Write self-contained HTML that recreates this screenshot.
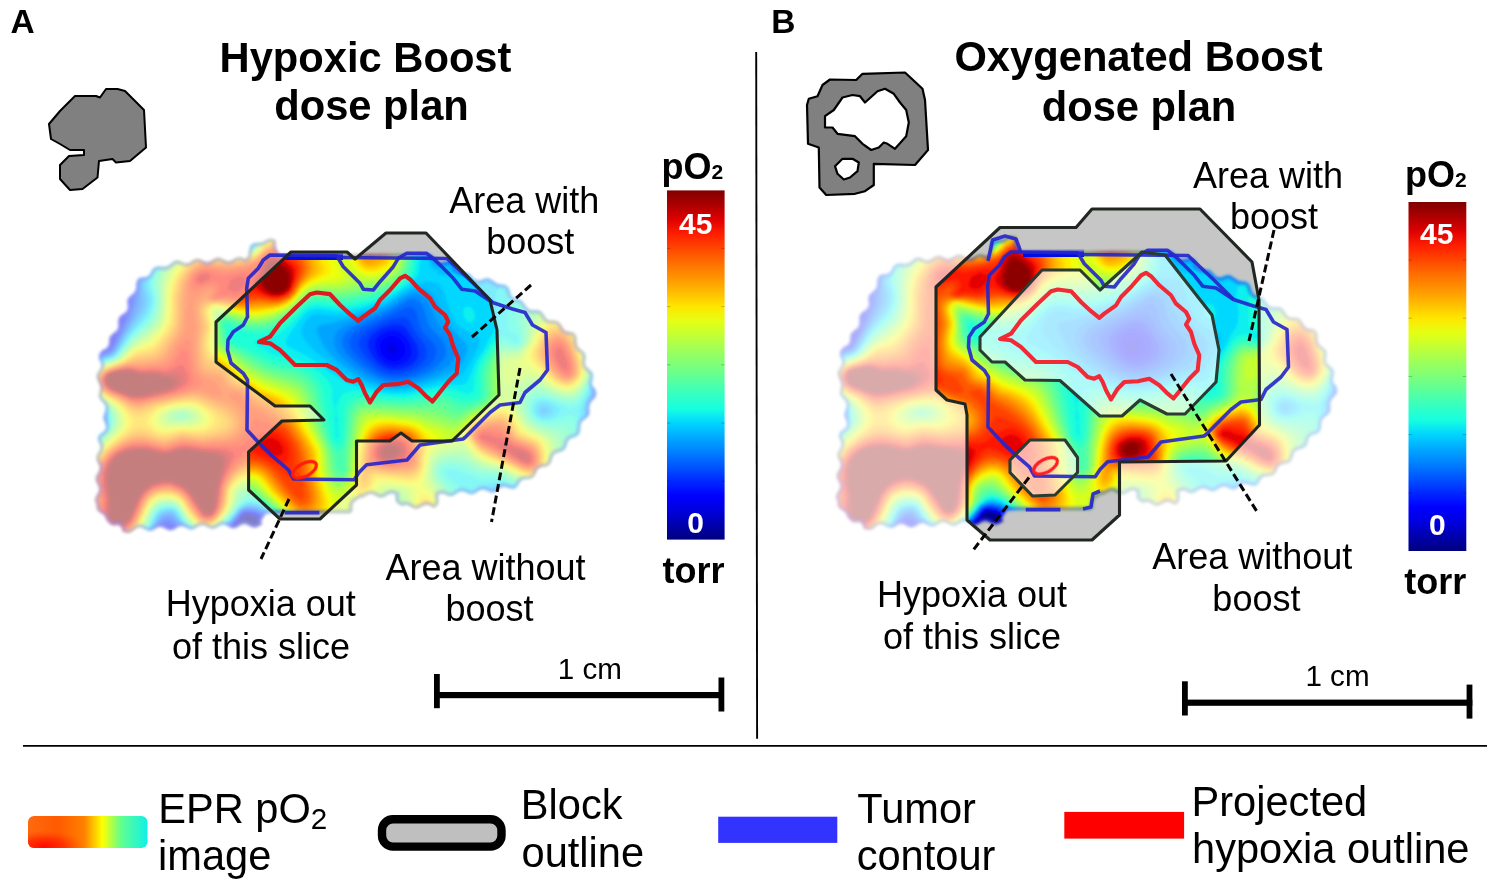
<!DOCTYPE html>
<html><head><meta charset="utf-8"><title>Figure</title>
<style>
html,body{margin:0;padding:0;background:#fff;}
body{width:1493px;height:886px;overflow:hidden;font-family:"Liberation Sans",sans-serif;}
svg{display:block;font-family:"Liberation Sans",sans-serif;}
</style></head><body>
<svg width="1493" height="886" viewBox="0 0 1493 886">
<defs>
<linearGradient id="jet" x1="0" y1="0" x2="0" y2="1"><stop offset="0.000" stop-color="#800000"/><stop offset="0.042" stop-color="#ad0000"/><stop offset="0.083" stop-color="#df0000"/><stop offset="0.125" stop-color="#ff1e00"/><stop offset="0.167" stop-color="#ff4700"/><stop offset="0.208" stop-color="#ff6f00"/><stop offset="0.250" stop-color="#ff9400"/><stop offset="0.292" stop-color="#ffbd00"/><stop offset="0.333" stop-color="#ffe600"/><stop offset="0.375" stop-color="#e4ff13"/><stop offset="0.417" stop-color="#c1ff36"/><stop offset="0.458" stop-color="#9dff5a"/><stop offset="0.500" stop-color="#7dff7a"/><stop offset="0.542" stop-color="#5aff9d"/><stop offset="0.583" stop-color="#36ffc1"/><stop offset="0.625" stop-color="#16ffe1"/><stop offset="0.667" stop-color="#00d4ff"/><stop offset="0.708" stop-color="#00a8ff"/><stop offset="0.750" stop-color="#0080ff"/><stop offset="0.792" stop-color="#0054ff"/><stop offset="0.833" stop-color="#0028ff"/><stop offset="0.875" stop-color="#0000ff"/><stop offset="0.917" stop-color="#0000df"/><stop offset="0.958" stop-color="#0000ad"/><stop offset="1.000" stop-color="#000080"/></linearGradient>
<linearGradient id="leg" x1="0" y1="0" x2="1" y2="0"><stop offset="0" stop-color="#ff6a10"/><stop offset="0.25" stop-color="#ff5a00"/><stop offset="0.47" stop-color="#ff8000"/><stop offset="0.62" stop-color="#ffff00"/><stop offset="0.78" stop-color="#60ff90"/><stop offset="1" stop-color="#10f0e8"/></linearGradient>
<radialGradient id="legr" cx="0.2" cy="0.95" r="0.5" gradientTransform="scale(1 1)"><stop offset="0" stop-color="#ff0800" stop-opacity="1"/><stop offset="0.5" stop-color="#ff2000" stop-opacity="0.7"/><stop offset="1" stop-color="#ff4000" stop-opacity="0"/></radialGradient>
<filter id="b1" x="-5%" y="-5%" width="110%" height="110%"><feGaussianBlur stdDeviation="1.5"/></filter>
<filter id="b05" x="-5%" y="-5%" width="110%" height="110%"><feGaussianBlur stdDeviation="0.55"/></filter>
<filter id="b2" x="-5%" y="-5%" width="110%" height="110%"><feGaussianBlur stdDeviation="1.6"/></filter>
<g id="heat"><g filter="url(#b1)">
<rect x="90" y="230" width="520" height="310" fill="#00008d"/>
<path fill="#0000a8" d="M560,540 277,540 260,521.1 254,517 248,515.2 244.9,516 242,518.4 236,525.6 226.1,540 90,540.1 90,351.7 104,345.1 106.9,342 110,336.1 117.2,312 121.7,280 123.8,270 128.1,258 134.8,246 142,237 149.4,230 605.2,230 610,238.1 610,486.9 601.7,502 590,516.9 576,529.6 562,539.5 560,540Z"/>
<path fill="#0000c8" d="M552,540 278.8,540 260.6,520 254.5,516 248,514 244,515.2 242,516.9 236,524 224.6,540 90,540.1 90,353.1 102,348.2 105.6,346 108,343.3 110.9,338 115.9,324 119.2,312 123.7,280 125.9,270 130.3,258 137.3,246 144,237.9 152.7,230 599.3,230 610,247.8 610,478.1 605.7,488 600,498 588,513.5 580,521.1 572,527.5 552,540Z"/>
<path fill="#0000e3" d="M540,540 280.7,540 262,519.7 256,515.6 248,513.1 244,513.9 242,515.5 223.1,540 178.4,540 174,537 170,535.5 166,536.6 163.4,540 90,540.1 90,354.4 105.6,348 109.5,344 111.7,340 117.7,324 121.7,310 125.8,280 127.9,270 132.5,258 139.9,246 148,236.8 156.2,230 593.2,230 602,242.7 610,257.5 610,467.9 605.7,480 600,491.4 594,500.6 586,510.3 578,517.8 568,525.2 541.6,540 540,540Z"/>
<path fill="#0000ff" d="M530,540 282.6,540 268.1,524 261.7,518 255.1,514 248,512.2 244,513 242,514.1 233.8,524 226,535.5 221.6,540 182,540 174,533.3 168,530.9 166,531.2 164,532.6 160.3,540 90,540 90,355.7 106,349.5 109.9,346 112.3,342 120.2,322 123.7,310 125.7,300 127.8,280 130,270 134.8,258 142,246.6 150,237.7 159.9,230 586.6,230 600,248 610,267.5 610,393.7 609,404 610,417.2 609.7,456 606,470 600.1,484 593,496 584,507.1 574,516.2 564,523 530,540ZM395.3,354 397.2,352 397.7,350 396.6,346 394.5,344 392,343.2 388,344.5 386.2,348 387.1,352 390,354.4 392,354.8 395.3,354Z"/>
<path fill="#000cff" d="M520,540 284.6,540 268,522.2 262,516.9 256,513.3 248,511.4 244,512 241,514 232.8,524 226,534 220.1,540 184.8,540 174,529.8 170,527.5 166,526.8 164,527.6 161.7,530 158,540 90,540 90,356.9 107.9,350 111.6,346 113.8,342 122.8,320 125.9,310 128.2,298 129.8,280 132.1,270 137,258 143.5,248 152.8,238 163.8,230 579.4,230 590,241.9 598,253.2 605.1,266 610,277.8 610,384.3 607.2,394 606.2,402 608.6,434 608.3,444 607,454 603.3,468 597.5,482 590,494.4 580,506.2 572,513.1 562,519.6 530,533.5 520,540ZM398.5,360 402,357.9 404.7,354 405.4,350 403.7,344 400,339.1 396,336.7 391,336 386,337.5 382.8,340 380.6,344 380.3,348 382,354 385.3,358 388.7,360 394,360.9 398.5,360Z"/>
<path fill="#0024ff" d="M510,540 286.5,540 262.7,516 256,512.2 248,510.6 242,512 240,513.9 232,523.7 224.9,534 218.5,540 187.4,540 174,526.6 168,523.1 164,523.9 160,527.9 156.1,540 90,540 90,421.9 90.6,420 90,416.3 90,358.1 108,351.5 111.9,348 114.3,344 124.7,320 128.6,308 130.6,298 131.9,280 134.2,270 139.3,258 146,248 156,237.9 168,230 571.4,230 584,242.3 596,258 604,272.7 610,289.1 610,376.9 605.1,392 603.5,400 603.5,408 605.8,434 605.4,444 603.9,454 600,468 593.8,482 586,494.2 576,505.2 568,511.6 558,517.4 523.4,530 517.4,534 511.3,540 510,540ZM402.8,364 406.3,362 410,358.2 412.1,352 410.3,344 406,337 400,331.5 394,329.9 386,331.4 380,334.7 376,339.2 374.5,344 375.4,350 379.1,358 384,362.7 390,365.2 396,365.7 402.8,364Z"/>
<path fill="#0040ff" d="M502,540 288.6,540 264,515.7 256,511.1 248,509.8 244,510.3 240.7,512 236.4,518 232,522.4 224,533.7 216.7,540 189.9,540 184.9,536 172,521.7 168,520 164,521 160,524.5 157.9,528 154.4,540 90,540 90,426.6 93.6,422 94.5,418 93.8,416 90,412 90,359.2 96,356.4 109.6,352 112,349.8 115.6,344 127.5,318 131.5,306 133,298 133.9,280 136.3,270 141.6,258 148,248.8 159.1,238 172.6,230 231,230 240,231.6 246.1,230 562.1,230 570,236.1 584,249.6 596,265.9 604.8,284 610,302.5 610,367.6 608.2,376 602,394 600.9,400 600.7,408 603.1,434 602.6,444 600.9,454 596.6,468 590,482.2 582,494 572.3,504 564,510 554,515.1 544,518.4 524,523 518,525.4 511.7,530 503.8,540 502,540ZM405.6,368 410,365.8 414.9,362 417.7,358 419,352 416.7,344 406,328.1 400,324.3 392,324.4 381.5,328 372.4,334 368.1,340 367.5,346 370.8,354 376.5,362 382,366.3 390,369.4 398,369.8 405.6,368Z"/>
<path fill="#0058ff" d="M496,540 290.7,540 263.5,514 256,510 248,508.9 244,509.5 240,511.6 236,517.5 231.4,522 224,532.5 220,536.5 214.7,540 192.5,540 184.9,534 173.3,520 170.5,518 168,517.4 165.1,518 162,519.8 158,524.5 152.8,540 90,540 90,429.6 96,423.2 98,418 95.8,414 90,409.4 90,360.3 96,357.4 110,353.1 113.3,350 115.9,346 129.7,318 134.1,306 135.6,298 136,280 138.4,270 142.8,260 150,249.6 156,243.3 162.5,238 170,233.4 177.8,230 223.7,230 236,233.5 242,234.3 246,233.4 249.8,230 550.6,230 562,237.1 572,244.8 586,259 592,267.1 597.3,276 604.8,294 608.7,312 609.8,330 608.9,360 606.8,374 599.5,394 598.3,400 598,408 600.3,434 599.7,444 597.8,454 593.2,468 586.4,482 579.5,492 570,501.7 560,508.4 550,512.7 540,515.1 520,517.6 512.9,520 506,526 497.4,540 496,540ZM407.1,372 416,368 421.3,364 425.8,358 426.9,352 426.1,348 424.2,344 416,332.9 410.3,322 408,318.9 406,317.6 402,316.9 390,319.8 371.9,328 365.9,332 361.7,336 358.6,342 359.6,348 364.8,356 374.4,366 382,370.8 390,373.3 398,373.7 407.1,372Z"/>
<path fill="#0070ff" d="M490,540 292.9,540 264,513 256,508.9 248,508 244,508.7 240,510.8 222,533.5 218,536.9 212.3,540 195.4,540 192,538.3 186,533.4 174,518 171.4,516 168,515.3 162,517.5 158,521.9 155,528 151.4,540 90,540 90,432.1 98.2,424 100.8,418 99,414 90,407.3 90,361.5 96,358.4 110.6,354 114,350.9 117.1,346 132,318 136.9,306 138.3,298 137.8,282 139.3,274 144.1,262 152.3,250 158.2,244 166.1,238 174,233.7 184.4,230 216.3,230 238,236 244,236.7 248,235.3 252.4,230 534.5,230 556,240.4 572,251.6 586,265.9 596,281.2 602.8,298 606.7,318 607.5,336 606.7,364 604.4,376 597.9,392 595.8,400 595.4,410 597.2,426 597.5,436 596.5,446 594.1,456 589,470 582.7,482 575.4,492 568,499.2 558,505.8 546,510.2 534,511.7 516,511.7 508,513.8 502,519.5 491.6,540 490,540ZM407.3,376 418.2,372 428.2,366 433.6,360 435.5,356 436.2,352 435.7,348 434,344 422.8,332 420.2,328 416.9,314 415.1,310 412,306.9 410,306.5 404,308.3 362.2,328 356,332 352,335.8 349.2,342 350.8,348 355,354 365,364 376,372 384,375.5 392,377.2 400,377.3 407.3,376Z"/>
<path fill="#008cff" d="M486,540 295.2,540 286,532.4 264.4,512 258,508.5 250,507 244,507.9 240,509.9 222,532.3 216,537.2 208.9,540 199.3,540 192,537 186,531.6 174,515.5 172,514.1 168,513.5 162,515.5 158,519.6 154.5,526 150,540 90,540 90,434.3 100,424.7 102,421.5 102.9,418 101.7,414 90,405.4 90,362.6 98,358.6 110,355.4 114,352.4 134.5,318 139.3,308 141,302 139.8,284 141.4,274 146.4,262 154,251.1 163.8,242 173.6,236 184,232 196,230 204.2,230 214,231.3 238,238 244,238.9 248,238.2 250,236.7 254.4,230 505,230 530,236.7 546,242.5 562,250.8 574,259.8 586,272.5 595.6,288 601.5,304 604.6,322 605.2,336 604.9,364 602.6,376 594.9,394 593.1,402 592.7,410 594.5,426 594.7,436 593.5,446 590.9,456 586.4,468 580.3,480 573.1,490 566,496.9 560,501.1 554,504.2 542,507.5 530,507.8 512,505.4 508,505.5 504,506.8 500,509.8 497.1,514 486,540ZM405.8,380 420,375.7 428.5,372 435.1,368 443.3,360 445.3,356 446.1,352 445.2,346 442.2,340 430.8,328 428.3,324 424.3,310 422,304.9 418,300.6 414,299 408,299.8 388,311.6 351.6,328 344.5,334 341.9,340 342.3,346 346.8,354 357.4,364 368.3,372 378,377.1 386,379.7 396,380.9 405.8,380Z"/>
<path fill="#00a4ff" d="M480,540 297.7,540 288,532.5 270.9,516 264,510.4 258,507.3 250,505.9 244,507 240,509.1 220,533.2 214,537.2 208,539.2 200,539.1 192,535.6 186,529.9 174.6,514 172,512.4 168,511.8 162,513.7 157.6,518 154,524.4 148.6,540 90,540 90,436.4 101.1,426 103.7,422 104.7,418 104,414.6 102,412.1 90,403.6 90,363.7 96,360.3 110,356.3 114,353.8 118,348.5 126,334.2 139.6,314 142.6,308 144.2,302 144.2,298 142,286 143,276 147.6,264 155.9,252 164.4,244 174,237.9 184,233.9 196,231.8 212,232.6 239,240 246,240.9 250,239.7 256.3,230 467.1,230 474,234.5 484,237.8 524,243.8 542,248.2 560,256.1 574,266 586,278.9 594,292.2 599.8,308 602.6,326 603,366 600.3,378 593.5,392 590.7,402 589.9,410 591.8,426 591.9,436 590.4,446 587,458 581.1,472 574,484 566,493 555.9,500 548,503.1 538,504.6 526,503.5 508,499 502,499.2 498,501 495,504 492,508.9 483.9,534 481.4,540 480,540ZM401.3,384 410,382.6 419.2,380 432,375.2 442.5,370 448.5,366 452,362.5 454.9,358 456.2,354 456.4,350 454.4,344 437.2,322 428.5,302 424,296.9 418,294.2 414,294.1 408,295.7 392,305.5 382,310.7 344,325.8 338,330.3 335.4,334 333.9,338 333.8,344 337.2,352 344.5,360 357.2,370 368,376.5 380,381.5 390,383.8 401.3,384Z"/>
<path fill="#00c0ff" d="M476,540 300.5,540 288,530.8 265.2,510 258,506.1 250,504.7 246,505.4 240,508.4 220,532.1 214,536.2 208,538.2 200,538 192,534.3 185.7,528 176,513.4 172,510.8 168,510.4 162,512 159.3,514 156.2,518 152.2,526 147.3,540 90,540 90,438.4 103.1,426 105.3,422 106.2,418 105.2,414 103.7,412 90,401.9 90,364.9 96,361.2 110,357.1 115,354 118.2,350 128,333.6 142.8,314 145.7,308 147.3,302 147.1,298 144.2,286 145.2,276 149.9,264 158,252.6 166,245.2 176,239 186,235.3 196,233.5 204,233.4 214,234.7 240,241.8 246,242.7 250,242.1 252,240.4 258,230 449.1,230 450,246 451.9,250 454,251.3 460,252.5 478,253.5 516,252.3 536,254.1 548,257.2 558,261.4 568,267.3 576,273.7 586,285.2 594.2,300 598.9,316 600.8,334 601.6,358 601.1,368 598.6,378 591.5,392 587.8,404 587,412 589,426 589,436 586.8,448 582.9,460 576.6,474 568.8,486 560.3,494 552,498.7 544,501 534,501.5 524,499.6 504,492.9 498,493.1 494,495.1 490,498.9 487,504 480.5,530 476.7,540 476,540ZM410.1,386 430.4,380 447.6,374 454,371 458,367.9 462,362.9 465.7,356 467.6,350 466.6,344 447.7,324 442.9,316 434.7,298 431.7,294 428,291 424,289.3 420,288.8 412,290.4 404.5,294 388,304.1 376,309.7 348,318.7 332,323 320,325.2 318.4,326 316.9,328 316.9,332 318.5,336 323.7,346 327.9,352 337.9,362 354.6,374 368,380.9 384,386 396,387.4 410.1,386ZM544,414 547.4,412 547.9,410 546.5,408 544,407.1 542,407.5 540,410 540.3,412 542,413.6 544,414Z"/>
<path fill="#00d8ff" d="M472,540 303.5,540 290,530.8 266,509.2 258,504.8 252,503.5 246,504.3 239.4,508 220,531.1 216,534.2 210,536.8 202,537.3 194,534.4 190,531.3 186,526.8 176,511.5 172,509.5 168,509.1 162,510.5 159.7,512 156.1,516 152,523.9 146.1,540 90,540 90,440.3 104,427.2 106.9,422 107.5,418 106.6,414 104,410.6 90,400.3 90,366.1 98,361.2 110,357.9 114,356 119.3,350 130,333.3 144.6,316 148,309.4 150.1,302 149.9,298 146.5,286 147.4,276 152.3,264 160,253.4 168,246.1 176,241.1 186,237.1 196,235.2 204,235.1 212,235.9 240,243.3 248,244.2 250,243.9 252.7,242 259.7,230 439.1,230 437.1,240 430.4,256 429.2,262 430,265.4 431.8,268 440,275.1 446,275.4 456,271.9 462,270.8 478,273.2 482,273.2 510,263.6 522,261.6 532,261.4 544,262.8 556,266.5 566,271.7 576,279.4 582,285.8 587.8,294 591.9,302 594.8,310 598.3,328 599.9,360 599.5,368 597.8,376 589.7,392 584.1,408 583.9,414 586.2,428 586,436 583.5,448 578.7,462 572.1,476 565.1,486 558,492.3 548,497.3 540,498.8 530,498.1 522,495.7 506,488.9 500,487.4 494,488.1 487.5,492 483.5,496 481.5,500 477.2,526 474.7,534 472,540ZM405.3,390 416,388 440,381.1 455.7,378 460,376.2 462.7,374 466,369.6 479.1,346 479.6,340 477.6,336 462,328.7 458,325.1 454.1,320 450.3,312 442.9,290 440,285 438,283.2 430,281.4 422,281.9 410,287.6 386,301.9 370,308.6 354,313.2 342,315.4 334,315.8 320,314.1 314,314.4 310,316.3 304.7,322 301.8,328 301.4,332 302.4,336 304.6,340 313.6,350 335.8,368 354,379.4 370,385.5 388,389.9 396,390.5 405.3,390ZM548.7,416 553.1,412 553.5,410 552.7,408 550.8,406 547,404 544,403.4 540,404.3 538,406 536.8,410 538.2,414 542,416.6 546,416.8 548.7,416Z"/>
<path fill="#09f0ee" d="M466,540 307.1,540 298,534.9 290,529.2 266,507.9 258,503.4 252,502.1 246,503.1 238.3,508 234,514 220,530.1 216,533.2 210,535.9 202,536.4 194,533.3 186,525.4 176,510 172,508.2 168,507.9 160.3,510 156,514.2 151.8,522 144.8,540 90,540 90,442.1 105.1,428 108,422.9 108.8,418 107.9,414 105,410 90,398.7 90,367.3 98,362 111.9,358 115.1,356 120.4,350 130,335.5 147.4,316 150.3,310 152.5,302 152.3,298 148.7,284 149.6,276 154.6,264 162.1,254 170,247.1 178,242.2 186,239 196,236.9 204,236.7 212,237.5 240,244.6 250,245.3 252,244.7 254,242.7 257.2,236 261.3,230 432,230 429.1,242 420.1,262 418.6,274 416.2,278 409.7,284 396,293.2 386,298.9 376,303.2 362,307.7 350,310.4 342,311.3 334,311.1 318,308.8 310,310.3 306,313.1 299.7,320 290.9,332 286.2,340 286.1,344 288,346.3 308,356.6 332,373.4 348,383.2 354,385.3 378,391.1 392,393.3 408,392.8 440,385.2 448,384.4 462,384.8 466,383 468.1,380 475.7,362 484,349.6 488.5,340 495,330 496.6,326 497.6,316 495.1,298 496.7,290 502.4,282 510.3,276 518,272.3 526,270.1 534,269.1 544,269.4 554,271.7 562,275 570,279.8 576,284.8 582,291.4 586.5,298 590.6,306 593.4,314 596.4,330 598.3,364 597.4,372 595.6,378 588.1,392 579.7,410 579.8,414 583,426 582.8,436 579.5,450 572.7,468 566.3,480 560,487.3 552,492.9 544,495.7 536,496.3 528,495 504,484.6 498,482.8 492,483.3 478,488.6 476,490.2 474.6,494 474.6,514 472.9,526 468.7,538 467.7,540 466,540ZM472,322.3 468,322.3 463.9,318 462.8,312 464,308.3 466,306.6 470,306.8 472,308.1 474.5,312 475,318 474,320.5 472,322.3ZM551.4,418 555.1,416 559.5,412 559.9,410 559,408 553.6,404 546,401 540,401.1 536,403.9 534.9,406 534.3,410 535.5,414 537,416 540,418.2 544,419.3 551.4,418Z"/>
<path fill="#1fffd7" d="M462,540 311.3,540 302,535.6 292,529.2 270.5,510 264,505.2 258,502 252,500.5 246,501.6 238,507.3 233.1,514 220,529.1 216,532.3 210,535 202,535.4 194,532.1 186,524 177.4,510 174,507.7 168,506.8 161.7,508 158.3,510 156,512.4 151.7,520 143.6,540 90,540 90,444 106.8,428 109.1,424 110.1,418 109.1,414 106.5,410 94,400.9 90,397.1 90,368.5 98,362.8 112,358.6 116.2,356 120,352 132,335.2 148.8,318 152,311.2 154.5,302 154.4,298 151,284 151.9,276 156,265.7 164,254.9 170,249.5 178.5,244 188,240.2 196,238.6 210,238.8 240.4,246 248,246.7 252,246.1 254.6,244 258.5,236 263,230 426.5,230 423.2,244 416,260.6 414.7,270 412.5,276 407.5,282 396.6,290 388,295 378,299.5 366,303.4 354,306.3 340,307.7 318,304.9 310,306.3 304.4,310 290,325 280,333 270,337.2 255.8,340 252.9,342 260.2,348 274,355.5 294,358.9 306,363.3 318,371.1 327.3,380 331.2,386 332.2,390 331.6,400 334.9,410 334,420 335.2,426 335,434 336,438.7 338,438.1 338.5,436 337.4,426 338.5,420 336.4,412 336.8,406 341.2,396 346,392.7 352,391.3 360,391.2 386,395.6 402,396.4 414,394.9 436,389.7 444,388.7 452,389.6 466,394 470,393.7 472,392.7 474,389.4 475.4,376 478.2,366 482.3,358 492,343.3 498,338.5 504,336.9 506,337.2 514,342.1 516,342.5 518,341.1 518,338 516,334.5 510,331.2 508.2,328 507.6,306 508.5,298 510.8,292 515.4,286 520.4,282 526,279 534,276.6 540,275.8 548,276.1 556,277.9 562,280.2 570,284.9 576,289.9 582,296.8 586.6,304 590.1,312 593,322 594.5,332 596.8,362 596.3,370 594.2,378 582,399.9 578,404.7 574,407.7 570,408 550,399.8 542,398.2 535.9,400 532.9,404 532,408 532.4,412 534.4,416 538,419.3 542,421 550,421.3 570,414.7 574,416.3 578,421.3 579.8,428 579,438 575.2,452 568.6,470 563,480 556,487.4 548,492 538,494 532,493.6 526,492 498,479.3 494,478.9 484,480 480,479.7 476,478.6 458,470.5 452,469.5 447.7,470 445.5,472 445.7,474 446.9,476 463.1,490 466.9,496 469.4,504 470.3,514 469.3,524 465.4,536 463.3,540 462,540Z"/>
<path fill="#33ffc4" d="M458,540 317.1,540 304,534.9 294,529 286,522.8 270,508.2 262,502.5 256,499.7 250,498.8 244,501.1 238,506.3 220,528.1 216,531.4 210,534.1 202,534.4 194,531 185.6,522 178,509.3 174,506.7 168,505.7 160,507.5 155,512 151.6,518 142.4,540 90,540 90,445.8 106.9,430 110,425.1 111.3,420 110.3,414 107.9,410 94.5,400 90,395.4 90,369.9 94,366.1 98,363.6 112,359.2 117.3,356 132,337.3 150,319.9 154,311.2 156.2,302 156.1,298 153.3,284 154.1,276 158.2,266 165.7,256 172.4,250 180,245.3 188.1,242 198,240.1 206,239.9 214,240.9 242,247.4 248,247.8 252,247.2 254.3,246 259.7,236 264.8,230 421.8,230 419.7,242 413.3,260 411.5,270 408.9,276 401.2,284 388,292.3 372,298.7 350,303.8 338,304.3 318,301.8 310,303.2 304,306.9 294,317.2 284,325.3 278,329 270,331.9 262,333 252,333.1 244,331.2 232,326.9 230,326.6 227.6,328 228,336.1 230.3,340 234,342.6 274,361.6 292,364.4 302,367.4 310,372 317.1,378 321.4,384 323.5,390 331.4,438 334,443.1 338,445.4 340.4,444 342.9,438 344.1,412 345.4,406 349,400 354,396.7 358,395.7 364,395.3 388,398.7 404,399.2 414.5,398 438,393 444,392.6 450,393.7 460,398.7 464,399.9 470,399.9 476.4,398 478.5,396 479.7,392 479.3,378 481.1,368 484.5,360 492,348.4 496,344.5 502,342.3 506,342.6 516,345.6 520.1,344 521.1,340 520.9,336 516.2,322 515.6,310 516.5,304 518.5,298 524,290.3 529.8,286 536,283.3 542,282.1 550,282.1 558,283.7 564,286.2 570,289.8 576,294.9 582,302 585.6,308 589,316 591.2,324 595.3,362 595,370 592.8,378 582,396.7 576,402.4 572,403.6 568,403.3 560,401.4 546,396.5 540,395.8 533.9,398 530.9,402 529.8,406 530.3,412 532.1,416 535.8,420 539.3,422 548,423.9 570,422.1 573.9,424 575.1,426 575.6,432 574,442.6 569.1,460 564.6,472 559.9,480 552,487.4 544,491 536,491.8 530,491 524,489 498,476.4 480,475.1 458,465.8 450,465.1 444,466.6 440.7,470 440.3,472 441.8,476 445,480 459.7,494 463.3,500 465.7,508 466.3,516 465,526 461.3,536 458.9,540 458,540Z"/>
<path fill="#49ffad" d="M454,540 326.6,540 322,539.1 310,535.6 298,530 288,522.9 266,503.7 258,498.9 250,496.8 244,499 236,507.1 231.2,514 220,527.2 216,530.5 210,533.2 202,533.5 196,531.2 188,523.8 178,508.1 172,505 166,504.7 160,506.3 157.4,508 154,511.7 141.1,540 90,540 90,447.7 108.5,430 111.1,426 112.6,420 111.5,414 109.2,410 106,406.9 94,398.2 90,393.6 90,371.3 92.9,368 98,364.5 112,359.9 118.3,356 132,339.2 148,324.9 152,320.2 155.6,312 157.6,302 155.4,284 156.3,276 160.5,266 168,256.4 174,251.2 182,246.3 190,243.2 198,241.7 212,242.1 242,248.5 252,248.2 255.5,246 260,237.3 266.7,230 417.6,230 415.7,244 408.8,270 407.1,274 404.3,278 400,282.1 386,290.7 370,296.4 348,301 338,301.3 320,299.1 311.8,300 304,304 294,314.2 282,323.2 274,327.2 268,328.9 252,329.7 246,328.5 228,322.2 226,322.1 223.5,324 225.5,338 227.7,342 230.2,344 270,364.3 276,366.2 292,369 300,371.6 306,374.8 312.2,380 316.5,386 318.8,392 324,418.2 328.9,438 332,444.7 338,451.7 340,451.8 342,449.5 344,445.1 346,436 347.9,412 350.3,406 354,402 360,399.3 366,398.7 390,401.6 406,401.9 422,400.1 442,396.5 448,397.6 456,402.7 460,404.3 468,404 478,401.2 480.2,400 483,396 483.6,392 482.8,378 483.8,370 486.6,362 492.4,352 496,348.1 500,345.9 504,345.3 516,347.4 520,346.2 521.8,344 523.3,336 521.2,320 521.5,312 524,303 528.5,296 533.2,292 538,289.4 544,287.8 552,287.5 558,288.6 564,290.8 570,294.4 576,299.6 581.2,306 584.7,312 587.9,320 589.9,328 594,364 593.3,372 590.6,380 582,394 578,398.3 574,400.5 570,401.1 564,400.3 544,393.9 538,393.4 534,394.6 530,398 528.1,402 527.5,406 528.3,412 530,416 533.1,420 536,422.2 546,425.8 564.8,428 568,429.7 569.4,432 570.1,438 568.8,448 564.7,464 560.7,474 556,481 550,486 542,489.3 534,489.7 524,487 498,474 486,473 480,471.8 460,462.8 450,462 446,462.6 442,464.3 440,466 438,470 438.9,476 442,480.8 456.5,496 459.9,502 462.2,510 462.6,518 461.3,526 458.1,534 454,540Z"/>
<path fill="#5dff9a" d="M448,540 382.1,540 370,538.5 336,538.4 318,536 306,532.3 296,527.1 288,521.4 272,507 264,500.8 256,496.2 250,494.6 246,495.2 242,498 231.9,512 220.2,526 216,529.6 210,532.3 202,532.6 196,530.2 192,527 187.6,522 178,507.1 172,504 166,503.7 158.4,506 154,510 150.6,516 139.9,540 90,540 90,449.6 110,430.2 112.6,426 114,420 112.8,414 110,409.3 106.5,406 95.2,398 90,391.7 90,373 94,368.1 98,365.3 113.2,360 119.4,356 132,341 148,327.4 152.9,322 156.7,314 158.8,304 159,298 157.4,284 158.4,276 162.9,266 170,257.1 176,252 182.5,248 190,245 198,243.3 212,243.5 242,249.5 252,249 256,246.6 262,236.2 268.8,230 413.8,230 412.7,244 405.5,272 403,276 398,280.9 386,288.2 372,293.2 348,298 338,298.5 320,296.6 312,297.6 304,301.7 294,311.8 284,319.1 276,323.5 268,326.1 258,327.3 250,326.9 226,319.3 222.2,320 220.9,322 223.7,340 226,343.7 228.9,346 266,366.3 274,369.2 292,373 300,376 306,379.8 310.2,384 312.8,388 315.2,394 326.1,436 334.7,456 336.3,468 338,471.1 340,472.5 343.2,472 345.1,470 345.5,468 344.7,454 348,438 350.2,416 352.1,410 356,405.2 360,403 366,401.9 404,404.8 424,403.5 442,401.2 446,402.1 454,408.1 460,409.4 478,403.9 484,400 486.2,396 486.7,392 486,378 486.8,370 489.4,362 494,353.7 500,348.6 504,347.8 516,349.1 520,347.6 523.1,344 525.2,336 525.1,322 526,314 528.7,306 532.9,300 537.9,296 542,294 548,292.5 554,292.5 560,293.7 566,296.2 572,300.3 575.9,304 580,309.1 583.9,316 588.3,330 592.6,364 592,372 589.3,380 580,394.1 574,398.3 570,399 564,398.5 544,391.9 536,390.9 532,392.2 528,395.8 525.9,400 525.3,404 525.8,410 527,414 529.1,418 532.8,422 540,426 558,431.2 562,433.7 563.8,436 565.3,442 564.7,450 561.2,466 558,474 553.9,480 548,484.8 542,487.2 534,487.8 524,485.1 498,472 486,470.7 480,469.2 462,460.1 450,459.3 442,461.4 438.7,464 436.4,468 435.8,472 436.6,476 440,482 454,498 457,504 458.9,512 458.8,520 456.9,528 452,536.9 449.4,540 448,540Z"/>
<path fill="#70ff87" d="M442,540 397.9,540 386,533.8 378,532.3 338,535.3 326,534.9 314,533 304,529.7 296,525.6 288,519.9 272,505.5 262,497.8 254,493.1 248,492 244,493.1 240.6,496 231,512 220,525.3 216,528.7 210,531.5 202,531.7 196,529.1 188,521.3 178,506 172,503.1 166,502.7 162,503.3 158,505 152.9,510 138.6,540 90,540 90,451.5 110.1,432 114.1,426 115.3,420 114.1,414 110.3,408 96.7,398 91.3,392 90,389.5 90,374.9 93.2,370 98,366.1 104,363.4 114,360.3 120,356.4 132,342.7 148,329.7 154,323.3 157.8,316 160,306.1 160.3,298 159.3,284 160.5,276 165.2,266 172,257.9 179.3,252 186,248.3 192.4,246 200,244.6 212,245 240,250.4 246,250.7 252,249.9 256,247.6 262,237.7 271.2,230 410.2,230 410.5,238 409.7,246 404.1,270 401.8,274 398,278.2 392,282.6 386,285.8 372,290.5 346,295.4 336,295.8 320,294.3 312,295.5 304,299.7 294,309.7 288,314.3 276,321.1 266,324.2 258,325.1 250,324.7 242,322.7 229.3,318 224,317 220.9,318 219.5,320 219.2,324 221.6,340 223.5,344 226,346.5 262,367.8 272,371.8 296,378.2 302,381.4 307,386 312,395.5 321.9,430 330.8,452 333.7,470 336,474.1 340,476.2 344,474.9 346,472.9 347.3,470 347.4,454 352.4,418 354.4,412 358,407.7 362,405.7 368,404.8 400,407.4 438,407.1 444,408.7 452,413.5 456,414.7 460,414 480,405.1 486,401.2 489.1,396 489.4,372 491.3,364 494,358 498,352.7 502,350.4 516,350.7 520,349 523.1,346 526.6,338 529.5,316 532,309.7 536,304.1 540,300.7 544,298.6 548,297.4 554,296.9 564,299.4 570,302.9 574,306.3 578,310.9 582.3,318 585.3,326 587.1,334 591.3,366 590.3,374 587,382 582,389.6 578,394 574,396.4 570,397.2 560,395.9 540,388.6 536,388.1 532,388.8 528,391.1 525.5,394 523.6,398 522.9,402 524.3,412 527,418 530,421.8 536,426 555.3,434 558,436.3 560.3,440 561.4,446 560.8,454 558.5,466 555.4,474 550.9,480 546,483.6 540,485.7 532,485.9 526,484.2 514,478.8 500,471 486,468.7 480,467 462,457 458,456.4 448,457 440,459.8 437.5,462 435.2,466 434.2,470 434.6,476 438,482.9 447.7,494 451.8,500 454.4,506 455.7,514 455,522 452.1,530 446.1,538 443.8,540 442,540ZM184.1,418 185.8,416 184,413.9 180,413.4 178,414 176.3,416 178,418.1 182,418.6 184.1,418Z"/>
<path fill="#87ff70" d="M436,540 409.3,540 399.7,534 390,524.3 386,522 382,522.3 360,528.8 342,531.6 324,532.3 310,530 302,527.1 294,522.8 258,493.1 252,489.8 248,489.3 244,490.2 240,492.7 238,495.6 234.9,504 228.5,514 218,526.3 214,529.1 210,530.7 202,530.8 196,528.1 188,520.1 178,505 172,502.1 166,501.7 158,503.8 153.2,508 150,513.2 142,531.8 137.3,540 90,540 90,453.5 111.8,432 115.6,426 116.7,420 115.5,414 111.7,408 98,397.9 92.5,392 90,386.5 90,377.6 92.6,372 96.5,368 102,364.8 114,360.9 119.1,358 123.6,354 132,344.3 148,332 155.6,324 159.5,316 161.2,308 161.2,284 162.6,276 167.6,266 174.6,258 180,253.7 186.3,250 192,247.8 200,246.2 212,246.4 240,251.4 246,251.6 252,250.7 256.6,248 260,242 264,237 274,230 406.8,230 407.6,238 407.2,246 404.9,260 402.8,268 400.7,272 397.3,276 392,280.1 386,283.4 374,287.4 344,292.9 336,293.2 320,292.1 312,293.4 304,297.8 294,307.9 288,312.5 276,319 266,322.1 258,323.1 250,322.8 224,315.1 220,315.7 218,319.3 219.7,340 221.3,344 224.9,348 250,364.3 260,369.9 270,374.2 294,381.1 300,384.3 304.1,388 308.7,396 319,428 328.1,450 331.8,472 335.8,478 340,479.5 344,477.9 346,476 349,470 349.7,452 354.6,420 356.4,414 360,410 364,408.2 370,407.5 420,410.6 438,413 454,419.1 460,418.2 469.2,412 484,405.1 490.1,400 492.2,394 492.3,372 493.5,366 496,359.3 498,356 502,352.7 506,352 516,352.3 520,350.4 524.4,346 528.1,338 530.7,324 533.2,316 536,310.8 540,306.3 548,302 556,301.2 562,302.5 566,304.2 574,310.3 580,318.6 583.8,328 589.8,362 590,368 589.1,374 584.5,384 580,390.1 576,393.6 572,395.3 568,395.7 558,393.7 538,385.5 532,385.3 528,386.9 524.3,390 521.7,394 520.4,398 520.4,404 521.7,410 524,416 527.9,422 534,426.7 552,435.4 554.7,438 557,442 558.1,448 557.6,456 555.5,468 553,474 550,478.1 544,482.5 538,484.3 532,484.2 526,482.7 514,477.4 500,469.6 486,467 480,464.9 466,455.6 462,453.8 458,453.4 448,454.5 440,457.1 436.4,460 434,464 432.5,470 432.7,476 436,483.6 446.2,496 449.7,502 451.8,508 452.5,516 450.8,524 447.9,530 442,536.5 436,540ZM184.3,420 189.1,418 190,416 188.9,414 186,412.4 182,411.7 178,412.1 173.7,414 172,416 172.4,418 176,419.9 184.3,420Z"/>
<path fill="#9aff5d" d="M136,540 90,540 90,455.5 96.5,448 113.5,432 117.2,426 118.2,420 116.9,414 113.2,408 98,396.7 93.6,392 90.8,386 90.4,380 92.4,374 97.7,368 104,364.7 114,361.5 120.3,358 132,345.9 148.4,334 156.2,326 159.7,320 162,312 162.9,304 163,284 165.4,274 168.6,268 174,261.3 180,255.9 188,251.1 196,248.4 206,247.4 214,248.1 236,252.1 250,252 256,249.5 262,240.5 266,236.7 277.6,230 403.4,230 404.7,238 404.8,246 403.4,258 401.5,266 399.6,270 396,274.4 386,281 374,284.8 356,287 342,290.4 320,290 312,291.5 304,296 294,306.2 288,310.9 276,317.1 266,320.1 258,321.3 250,321 222,313.2 218.5,314 217.2,316 216.6,320 218,340 219.2,344 222.1,348 246,364.7 256,370.8 268,376.4 292.5,384 299.3,388 302.9,392 307,400 316.8,428 326.3,450 328.5,468 330.1,474 334,480.4 338,482.8 340,483 344,481.1 348,476.4 350,472 351.7,450 356.2,424 358.5,416 362,412.3 368,410.5 374,410.2 414,413 438,418.1 452,422.8 458,422.3 470,413.8 488,404.6 493,400 495.1,394 494.8,380 495.6,370 498.5,360 501.4,356 504,354.4 516,354.1 520,352.1 524,348 527.1,344 529,340 533.3,324 535.7,318 538.1,314 542,309.8 546,307.1 552,305.2 556,305 562,306.2 568,309.1 572,312.2 576,316.7 580,323.5 583.5,334 588.9,366 588.4,372 586.6,378 580,388.2 574,393 570,394 564,393.8 554,390.7 538,382.7 532,381.8 528,382.7 523,386 519.6,390 517.3,396 517.3,402 518.9,408 522.1,416 525.7,422 532,427.4 548.7,436 553.7,442 555.2,448 555,456 553.3,468 550.7,474 547.4,478 542,481.4 536,482.8 530,482.4 514,476 500,468.4 486,465.3 480,463 474,459.3 466,452.4 462,450.5 454,450.8 444,452.8 440,454.3 436,457.3 432.8,462 431.2,468 431,476 433.8,484 443.3,496 446.8,502 448.8,508 449.3,514 448.5,520 446,526.1 442,531.4 436,535.8 428,538.4 420,538.4 412,535.9 404.2,530 401.3,526 399.2,520 399.2,514 403.5,498 402.9,496 400,494.3 394,493.9 387.9,496 384.4,500 379.2,510 376.1,514 371.4,518 366,521 356,524.5 340.6,528 330,529.5 320,529.7 308,527.6 296,522.4 288,516.8 256,489.1 252,487.1 248,486.7 242,488.5 237.5,492 236.2,494 234.5,502 231.6,508 220,523.4 214,528.2 208,530.2 204,530.3 200,529.3 194,525.5 186,516.1 180,506 176,502.6 172,501.2 166,500.7 158,502.6 154,505.6 150.7,510 141.9,530 136,540ZM191,420 193.1,418 193.6,416 192.7,414 190.3,412 186,410.6 180,410.4 174,411.6 169.8,414 168.4,416 168.3,418 169.7,420 174,421.5 186,421.4 191,420Z"/>
<path fill="#b1ff46" d="M134,540 90,540 90,457.7 98.2,448 115.2,432 118.9,426 119.8,422 118.4,414 114.8,408 110.2,404 98.5,396 94,390.9 91.4,384 91.7,378 94,373 98,368.7 104,365.3 116,361.2 121.5,358 134,345.7 148,336.6 156.8,328 160.7,322 163.2,314 164.8,284 167.6,274 171,268 176,262 182,256.7 188,253 196,250 206,248.9 214,249.5 236,253.2 250,252.8 256.4,250 262,241.8 268,236.6 274,233.3 282.5,230 399.9,230 401.8,238 402.4,246 401.7,256 400.1,264 398.4,268 395.4,272 392,275 386,278.6 374,282.3 356,283.2 340,287.9 322,287.8 312,289.6 304,294.2 294,304.6 288,309.3 276,315.3 264,318.7 256,319.6 248,318.9 222,311.5 218,311.5 215.7,314 215.3,318 216.5,328 216.4,340 217.2,344 220,348.4 246,367.7 253,372 266,378.5 290,386.4 296.3,390 300.3,394 304,400.7 314.7,428 324,448 325.5,454 326.8,470 328.5,476 332,482.3 334,484.4 338,486.8 340,486.9 344,484.8 348,479.8 350.8,474 352.2,468 353.7,448 357.2,430 360,419.6 362,416.3 364,414.8 368,413.4 376,412.7 412,415.4 420,417 450,426.4 456,426.2 460,424.2 472,414.6 489.2,406 496.2,400 498.8,394 498.2,386 498.8,372 500,364.8 502,360.1 504,357.9 506,357.2 516,356.4 522,352.1 529.6,342 537.8,320 544,312.7 548,310.3 554,308.7 560,309.1 564,310.4 572,315.9 576,320.7 578.9,326 582.2,336 584.3,350 587.2,362 587.7,368 585.4,378 582,383.9 578.6,388 572,392.1 568,392.7 562,392 552,388.1 536,378.8 530,378.1 524,380.2 518.9,384 515.6,388 513,394 513,398 514.8,404 520.2,416 524,422.6 529.8,428 545.3,436 549.6,440 551.7,444 552.9,450 552.1,464 550.6,470 548.5,474 544.6,478 540,480.4 536,481.3 530,481 514,474.8 500,467.2 488,464.4 481.5,462 475.1,458 466,449.2 462,447.2 456,447 440,451.5 436,454.1 431.7,460 429.7,468 429.4,478 431.4,484 440.6,496 444,502 445.9,508 446.2,514 444.9,520 442,525.6 438,529.7 434,532.3 428,534.1 420,533.8 414,531.4 408,526 405.9,522 404.7,516 407.4,496 406,493.1 402,490.9 392,490 384.7,492 382,494.5 376,504.4 372,509.5 366.5,514 360,517.3 334,525.5 326,527 318,527.3 306,525.3 294,519.7 286,513.5 256,486.3 250,484.1 242.3,486 236.8,490 234.4,494 232.5,504 228.2,512 218,524.5 214,527.4 208,529.4 204,529.4 200,528.4 194,524.4 186,514.8 180,504.8 176,501.6 172,500.2 166,499.7 158,501.5 154,504.2 150.9,508 140,531.7 136,538.2 134,540ZM192.1,422 195.2,420 196.5,416 194,412 188,409.4 182,409.1 174,410 169.2,412 165.5,416 165.7,420 167.6,422 170,422.9 186,423 192.1,422Z"/>
<path fill="#c4ff33" d="M132,540 90,540 90,460 97.8,450 117,432 120.7,426 121.5,422 120,414 116.4,408 111.9,404 99.8,396 94.5,390 92.8,386 92.2,382 92.6,378 94.3,374 97.5,370 102,366.9 115.6,362 122.7,358 134,347.2 150,337.5 159,328 162.6,322 164.8,314 166.1,288 168.1,278 173.4,268 183.2,258 188,254.9 194,252.2 204,250.4 214,250.9 236,254.3 244,254.4 252,253.1 257.4,250 262,243.1 268,238 276,234 286,231 292,230 396.2,230 399.3,240 400,252 398,264 396,268 392.4,272 384,277 378,279 370,280.2 354,278.6 344,283.8 340,285 322,285.5 314,287 308,289.5 304.4,292 294,303.2 286,309.1 276,313.6 264,316.9 256,318 250,317.6 218,309.5 215.8,310 214,312.7 213.7,316 215.5,328 214.9,342 216,346 219,350 248.2,372 264,380.5 290,390 295.7,394 299,398 303.2,406 313.4,430 322.4,448 323.8,454 324.3,466 325.6,474 328.9,482 334,488.7 338,491.2 342,490.9 344,489.5 348,483.9 352.9,472 355.3,448 360.5,426 364,419.1 368,416.6 372,415.6 386,415.3 412,417.8 420,420 430,424.4 440,426.8 450,431.2 454,431.3 458,429 472.8,416 490,407.5 502,399.6 506,398.8 508,400.1 512,404.9 524,425.4 528,428.8 540,434.7 544.9,438 548.3,442 550.5,448 550.2,464 548,471.4 546,474.4 542,477.7 538,479.4 534,480 526,478.6 514,473.6 500,466.1 482,460.6 475.1,456 466,446.2 460,443.1 454,442.9 438,449.4 434,452.8 430,459.4 427.9,470 427.4,478 428,482 429.9,486 437.9,496 441.3,502 443,508 443,514 441.1,520 438.4,524 434,527.5 430,529.2 424,529.8 420,529 416,527 412,523 410,519.2 408.8,514 410.4,498 409.9,494 406.8,490 402,488 392,487 384,488 380,490.8 370.8,504 364,509.3 332,522.3 324,524.4 316,525 304,522.9 294,518.1 286.1,512 268.4,496 256,483.4 254,482.3 250,481.7 242,484 236,488.5 233.6,492 232,502 228.6,510 220,521.6 214,526.6 210,528.2 206,528.8 202,528.2 198,526.4 190,518.9 185,512 181.7,506 178,501.9 172,499.2 162,499.1 156,501.4 151.2,506 148,511.6 138.8,532 134,539.1 133.2,540 132,540ZM572,390.6 566,391.3 558,389.4 547.9,384 538,376.5 532,374.3 526,374.4 522,375.8 508,384.6 506,384.3 504,380 503.4,370 505,364 508,361.3 516,359.5 520,357 529.9,344 536.5,328 540,321.4 546,315.2 552,312.5 556,312 562,312.9 570,317.5 576,324.8 580.5,336 583.3,352 586,362 586.1,372 584.2,378 580.6,384 576,388.6 572,390.6ZM192.3,424 196,422.6 198,421 199.4,418 199.3,416 196,411.1 190,408.2 178,408 170,409.8 163.9,414 162.1,418 163.2,422 168,424.8 172,425.2 192.3,424Z"/>
<path fill="#d7ff1f" d="M130,540 90,540 90,462.6 94.3,456 99.4,450 118.9,432 122.6,426 123.4,422 121.6,414 118,408 113.7,404 101.2,396 96,390.6 93.7,386 93.2,380 95.2,374 100,368.9 104,366.6 116,362.4 122,359.3 134,348.7 150,340 160,329.7 164,323.1 166.1,316 167.3,292 168.8,282 171.9,274 177.5,266 183.6,260 188,256.8 194,253.9 200,252.4 212,252.1 238,255.5 252,253.9 258,250.4 262.3,244 268,239.4 276,235.6 286,233.1 300,232.1 324,234.3 330,233.4 336.8,230 392.3,230 395.2,236 396.9,242 397.6,256 396.5,262 394.8,266 392,269.4 388,272.5 378,276.5 368,277.5 361.3,276 352,270.9 350,270.3 348,270.8 345.2,278 342,280.9 338,282.2 320,283.5 312,285.8 304,290.5 294,301.8 288,306.6 278,311.4 264,315.1 256,316.3 250,316 220,308.4 215.5,308 213.1,310 212.1,314 214.5,326 213.3,344 214.9,348 218,351.6 230.1,360 244,372.2 264,383.3 287.1,392 292,395.2 296,399.4 300.1,406 311.2,430 320.7,448 322,454 322.8,470 326,481.3 332,491.3 336,495.5 340,497.8 344,497.3 346,494.8 352,479.6 354.6,470 356.5,450 358.9,438 363.1,426 365.6,422 368,420 374,417.9 382,417.3 408,419.4 418,422 428,427 437.9,430 441.2,432 444.8,436 445.4,438 444.9,440 434,448.9 430,454.9 428,460.4 425.4,478 425.4,482 426.7,486 436,497.3 439.3,504 440,512 438.9,516 436,520.7 432,523.7 428,525.1 422,524.6 418,522.6 414.1,518 412.7,514 412.1,508 413.2,496 412.6,492 411.3,490 408.8,488 403.6,486 388,484.4 384,484.7 380,486.4 370,499.4 364,503.8 358,505.8 346,507 334,516.7 324,521.4 316,522.7 306,521.7 298,518.8 290.4,514 268.3,494 258,482.3 254,479.8 250,479.5 242,482 238,484.6 234,488.7 232,493.1 230.4,504 227.7,510 220,520.6 213.5,526 210,527.4 206,527.9 198.9,526 191.9,520 186,512.4 181.2,504 178,500.8 172,498.3 162,498.1 156,500.2 151.6,504 148,509.7 138,531.5 132,539.7 130,540ZM574,388.3 568,390 560,388.7 550.6,384 536,372.1 526,368.8 515.6,368 520,363.4 525.7,352 531.5,344 541.2,324 546,318.9 552,315.8 560,315.5 568,319.1 574.3,326 578.8,336 582,352 584.8,362 585.2,370 583.9,376 582,380 578,385.3 574,388.3ZM536,478.4 530,478.4 524,476.7 514,472.5 502,465.9 486,460.9 480,457.9 475.1,454 468,445.3 459.9,438 459.1,434 461,430 468,421.7 476,415.8 500,404.6 504,404 508,405.4 512,409.3 520.8,424 524,427.9 542.2,438 545.9,442 547.9,446 548.8,452 548.5,464 547.7,468 544,474.1 540,477 536,478.4ZM190,426 194,425.6 198.7,424 201.1,422 202.6,418 201.4,414 200,412 196,408.8 192,407.1 184,406.4 170,408.4 163,412 161,414 159,418 159.5,422 160.8,424 166,426.7 172,427 182,425.7 190,426Z"/>
<path fill="#eeff09" d="M130,540 90,540 90,465.4 94.3,458 100,451 120.9,432 124.9,426 125.7,422 123.5,414 119.7,408 115.5,404 104,397 98,391.9 94.7,386 94,380 96.1,374 100,369.7 106,366.4 116,363 122.3,360 136,348.9 150,342.6 156,337.3 162,330.1 165.6,324 167.5,318 168.5,296 170.7,282 174,274.1 178.3,268 188,258.8 194,255.6 200,253.9 210,253.4 236,256.6 244,256.2 252,254.7 258,251.3 263.5,244 266,241.9 274,237.9 282,235.7 292,234.7 304,235.5 313.4,238 328,244.1 332,244.4 336,241.9 347.1,230 387.8,230 391.7,236 394,242 395.2,248 395.4,256 394.3,262 392.1,266 388,269.8 384,272 374,274.8 368,274.8 364,273.9 360,271.9 355.3,268 348,258 346,256.4 342,255.2 339.7,256 336.9,260 337.2,266 339.8,274 339.6,276 338,277.6 320,281.1 310,284.8 302.7,290 292,302.4 282,308.5 270,312.1 254,314.7 242,313 216,306.5 212.6,308 210.7,312 210.8,316 213.5,326 211.4,344 212.6,348 215.5,352 229.7,362 242.4,374 262,385.3 278,391.1 286,395 292,399.7 296.8,406 319.6,450 320.6,468 322,476 325.7,486 333.9,502 333.9,508 331.8,512 326,517 318,520 308,520.3 300,518.1 294,514.9 286,508.6 268.4,492 258,479.6 254,477.7 250,477.5 242,480 238,482.7 234,486.6 231.2,492 229.9,502 226.8,510 220,519.7 214,524.9 210,526.6 206,527.1 200,525.7 196,523 192,518.9 186,511.1 182,503.7 178,499.7 172,497.3 162,497 154.4,500 150,504.6 138,529.7 130,540ZM570,388.4 562,388 553.1,384 547.8,380 540,371.9 528.6,364 526.6,360 526.6,356 528,352 533.1,344 541.1,328 546.4,322 550,319.7 554,318.4 560,318.4 564,319.7 570,324 573.2,328 577.7,338 583.6,362 584.1,370 581.9,378 579.4,382 576,385.6 570,388.4ZM175.5,428 182,427.1 194,427.5 200,426.2 203.5,424 205.1,422 205.8,420 205.4,416 203,412 198.3,408 194,406 188,405 176,405.8 170,407 162.7,410 157.9,414 156.5,416 155.5,420 156.7,424 158.5,426 162,428.1 166,429 175.5,428ZM538,476.3 532,477.3 524,475.6 514,471.4 502,464.8 487.4,460 480,456.2 475,452 463.4,438 462.5,434 464.7,428 472,420.2 482,414.5 500,407.4 504,407.2 508,408.9 513,414 522,428.5 526,431.5 540,438.4 543.7,442 545.9,446 547.1,452 546.6,466 543.8,472 538,476.3ZM428,520.2 422,519.5 419.7,518 416.7,514 415,506 416.7,490 415.2,488 410,485.5 398,482.9 382,482.1 378,484.1 370,494.9 364,499.1 360,500 356,499.4 353.8,498 352.4,496 351.6,492 351.8,488 355.6,472 357.7,452 359.6,442 364,429.2 366,425.9 370,422.2 376,420.1 384,419.4 408,421.5 418,424.6 436,434.5 437,438 436.3,440 430,450.1 427.1,458 422,484 423,488 430,493.9 433.6,498 435.8,502 436.8,506 436.4,512 434.5,516 432,518.5 428,520.2Z"/>
<path fill="#ffea00" d="M374,272.2 366,271.8 359.3,268 354.4,262 348,250 346.8,246 347.5,240 351.3,234 356.2,230 381.8,230 386.2,234 390,240 392,246 392.9,252 392.8,258 391.8,262 390,264.8 386,268.1 380,270.7 374,272.2ZM128,540 90,540 90,468.8 93.3,462 98.8,454 106,446.7 123.2,432 127.6,426 128.6,422 127.7,418 125.7,414 119.7,406 114.4,402 103.9,396 97.7,390 95.6,386 94.8,382 95.3,378 97,374 100,370.6 103.8,368 123.8,360 136,350.5 150,345.4 156,340.5 161.5,334 166.8,326 168.9,320 169.8,312 170.1,296 171.6,286 173.3,280 179.1,270 184.5,264 190,259.5 198,256 206,254.8 234,257.7 242,257.4 250,256.1 254,254.8 258,252.3 264,244.8 268,242 274,239.4 282,237.5 290,237 298,237.6 306,239.5 312,242.3 318.8,248 328.2,262 329.9,266 330.6,270 328.8,274 308,284.1 302,289 296,297.1 290,302.7 284,306.3 276,309.2 258,312.7 252,313 238,310.8 219.4,306 216,305.5 213.2,306 210.7,308 209.1,312 209.4,316 212.4,326 209.6,344 211.3,350 214,353.5 228,363 240,375.4 262,388.3 282,396.1 288,400.3 294,407 317.5,450 318.3,454 318.6,468 319.9,476 329.1,502 329.1,506 327.6,510 322,515.5 315.3,518 306,518.1 298,515.6 289.6,510 272.5,494 260,478.8 256,476.3 250,475.5 246,476.4 240,479.3 233,486 230.1,492 228.9,502 226,510 220,518.7 214,524.1 210,525.8 206,526.3 200,524.8 196,522 192.3,518 186.2,510 182,502.4 178,498.7 172,496.3 162,496 155.7,498 150,503 147,508 138,528 132.4,536 128,540ZM572,386.5 568,387.4 564,387.1 559.9,386 554,382.9 550,379.9 540.6,370 533.4,364 529.9,358 530.4,352 540.9,332 546,325.6 552,321.8 556,321 560,321.2 566.4,324 572.2,330 576.8,340 582.4,362 583,370 581.6,376 579.5,380 576,384.1 572,386.5ZM173.8,430 180,428.6 194,429.3 202.2,428 206.1,426 209.4,422 209.8,420 208.9,416 206.2,412 200,406.9 194,404.4 188,403.6 176,404.6 168,406.2 159.3,410 154.5,414 152.2,418 151.8,422 153.9,426 156,427.9 160,430.1 164,431.1 173.8,430ZM532,476.1 526,475.2 520,473 502.6,464 486,458.1 479.1,454 474.9,450 465.8,438 465,436 465,432 468.1,426 476,419.1 494,411.2 502,409.6 508,411.7 512.2,416 520.9,430 524,432.4 538,438.8 541.6,442 544.1,446 545.7,454 545.5,464 544.4,468 542,471.8 539.4,474 536,475.5 532,476.1ZM366,494.1 362,495.4 358,494.4 355.7,492 354.6,486 360.6,444 364,434 366.1,430 369.4,426 374,423.2 382,421.6 392,421.6 404,422.9 416,426.2 427.1,434 429.9,438 429.9,442 426,455.7 423,472 420,479.2 418,481.6 416,482.7 412,482.9 396,480.7 380,479.5 378,480 376,481.6 370.7,490 366,494.1ZM430,514 428,515 424,514.8 422,513.8 419.1,510 418.1,506 418.1,502 420,496.7 422,494.8 424,494.4 428,496 430.2,498 432.7,502 433.5,508 432,512 430,514Z"/>
<path fill="#ffd000" d="M378,268.5 372,269.7 366,269.2 360.7,266 356.5,260 353.1,250 352.9,244 356,237.4 362,232.7 370,230.9 378,232.8 384,237.4 388,243.8 390.1,252 389.6,260 386,264.7 378,268.5ZM126,540 92.4,540 90,537.3 90,473.1 91,470 94.7,462 100.3,454 108,446.3 127.9,430 131.4,426 132.8,422 131.5,418 121.5,406 116.4,402 104,395.1 98.7,390 96.5,386 95.7,382 96.1,378 97.9,374 104,368.6 124,360.7 136,352.3 150.6,348 154,345.7 159.4,340 166.9,330 170.4,322 171.5,314 172,294.2 175.3,280 181.5,270 187,264 192,260.2 198,257.6 206,256.3 234,258.9 242,258.5 250,257 254,255.7 258,253.2 264,246.3 268,243.4 274,240.9 280,239.6 288,239.1 296,240 302,241.6 308,244.5 314.1,250 323.2,266 323.7,270 321.2,274 310,280.7 304,285.3 300,289.7 295.8,296 290,301.6 284,305.1 278,307.3 254,311.3 240,309.8 218,304.9 214,304.8 211,306 208.9,308 207.5,312 207.9,316 211,326 207.8,344 209,350 212,354.8 226.3,364 230.5,368 238,377.1 250,383.4 260,390.3 272,394.6 280,398.4 287.4,404 292.5,410 315.2,450 316.1,454 317.3,474 325.2,500 324.9,506 323,510 318.4,514 312,516.1 304,515.9 298,513.9 289.4,508 272.7,492 263.8,480 260,476.3 256,474.3 250,473.6 246,474.5 240,477.4 232.9,484 229.6,490 227.5,504 225.1,510 218,520 212.6,524 206,525.5 200,523.8 196,520.9 192,516.4 187.2,510 182.7,502 180,499 176,496.5 172,495.2 162,494.9 156,496.7 150,501.5 146.1,508 140,522.3 136,529.6 130.9,536 126,540ZM568,386.1 560,384.7 552,379.8 535.2,362 532.4,356 533.6,350 542,333.7 548,326.9 554,324 560,323.9 564,325.3 568,328.1 571.3,332 575.2,340 581.2,362 581.9,370 579.5,378 574,384.1 568,386.1ZM172.8,432 182,429.9 196,431.2 204.1,430 208.9,428 213.6,424 214.5,422 214,418 209.7,412 202.2,406 196,403.2 188,402.2 172,404 162,406.9 152.9,412 147.6,418 146.5,422 147.2,424 154,430 158,432 164,433.4 172.8,432ZM536,474.2 530,474.9 522,472.8 504,463.6 488,457.6 481.3,454 476,449.5 467.5,438 466.6,434 468.5,428 471.8,424 476,420.7 492,413.7 498,412 502,411.9 508,414.3 512,418.7 520.2,432 537,440 540,442.6 542.3,446 544.1,452 544.1,464 541.6,470 536,474.2ZM366,490.6 362,491.5 359.1,490 357.1,486 357,482 361.7,446 365.1,436 370,428.7 374,425.9 378,424.4 384,423.5 392,423.5 410,426.1 416,428.7 420.6,432 425.3,438 426,444 422.6,468 420.3,474 418,477.4 414,479.8 410,480.2 380,476.9 376,477.1 374,479 370,486.9 366,490.6ZM428,508.2 426,509 424,508.5 422,506 421.7,502 424,499.2 426,499.3 428.8,502 429.2,506 428,508.2Z"/>
<path fill="#ffb900" d="M374,266.5 368,266.9 364,265.5 360.5,262 357.7,254 357.4,248 359.6,242 363.8,238 368,236.4 374,236.5 380,239.6 384,244.2 386.4,250 386.9,256 385.7,260 381,264 374,266.5ZM124,540 96.1,540 90,532.8 90,480 94.1,466 97.3,460 101.8,454 114,442.9 132,430.1 138,427.1 142,427.3 158,434.5 166,435.5 180,431.6 198,433 206,432 215.9,428 218.7,426 220.9,422 220.5,420 218,416 208.8,408 200,402.8 192,400.8 184,401.1 166.8,404 155.3,408 142,415.9 138,416.5 136,415.9 132,413.7 118.5,402 106,395.4 100,390.3 97.5,386 96.6,382 97,378 98.8,374 102,370.7 106,368.2 123.2,362 136,354.3 152,350.3 156,347.4 160,343.1 168.2,332 172.1,324 173.2,316 173.6,296 175.4,286 177.4,280 182.2,272 187.4,266 192.2,262 198,259.2 206,257.8 232,260.2 240,259.8 248,258.3 256,255.6 260,252.4 264,247.7 268,244.7 278,241.6 284,241.1 292,241.9 298,243.4 304,246 309.1,250 312.3,254 317.4,264 318.2,270 315.4,274 302,285.6 294,296.8 288,301.8 280,305.5 274,307 256,309.2 240,308.5 217,304 214,304 210,305.4 207.1,308 206,312 206.3,316 209.4,326 206.4,340 206.1,346 207.5,352 210,356.4 214,359.7 222,363.5 226,366.4 229.6,370 236,378.9 248,384.6 260,393.4 270,396.6 278,400.7 286,406.9 292,414.2 309.7,444 313.3,452 315.2,474 321.8,498 321.7,504 320.1,508 316,512 310,514.1 304,514.1 298,512.2 290,506.6 275.1,492 262,475.5 256,472.2 252,471.6 248,472 240,475.5 232,483.2 228.6,490 226.9,502 225.2,508 220,516.6 214,522.4 210,524.3 206,524.7 200,522.9 192.7,516 188,509.7 183.7,502 180,497.8 172,494.2 162,493.8 155.1,496 150,500 146,506.3 136,527.9 130,535.4 124,540ZM570,384.5 566,384.9 562,384.1 554,379.7 538.1,362 535,356 535.8,350 542.7,336 548,329.8 554,326.6 558,326.2 562,327 566,329.2 570,333.3 574.4,342 579.5,360 580.8,368 579.3,376 576,381 570,384.5ZM536,472.8 530,473.7 522,471.8 504,462.5 488,456.3 482,453 476,447.8 469,438 468.5,432 470.3,428 476.5,422 488,416.7 498,414 502,413.9 506,415.3 510.9,420 516.4,430 519.6,434 534.1,440 538,442.8 540.5,446 542.9,454 542.8,464 540,469.8 536,472.8ZM366,487.2 364,487.9 362,487.6 360.1,486 359.3,480 362.7,448 366,438.2 370,431.9 374,428.6 378,426.8 384,425.5 392,425.3 402,426.3 409.7,428 414.2,430 419.2,434 422.6,440 423.2,450 421.7,466 420,470.9 418,474 414,477 408,477.9 376,474.3 372.6,476 368.8,484 366,487.2Z"/>
<path fill="#ffa300" d="M120,540 100.5,540 94,534.5 90,526.5 90,504.8 92.3,476 96.5,464 104,453.2 110,447.5 118,441.5 128,435.2 136,431.7 140,431.2 144,431.8 158,436.7 164,437.7 168,437.2 182,433.1 196,434.8 204,434.7 215.2,432 224,428.2 226.9,426 228,424 227.9,422 224.1,416 216.2,410 202.7,402 194,399.4 186,399.5 170,402 155.7,406 142,412 138,412.5 134,411.5 130,409.4 120,401.7 106,394.5 100.8,390 98.4,386 97.4,382 97.8,378 99.7,374 106,368.9 125.1,362 136,356.6 152,353.2 156,350.9 160,347.1 170,333.3 174,325.4 175.1,318 175.6,296 178.7,282 184.5,272 189.7,266 194,262.8 200,260.3 206,259.3 230,261.5 244,260.3 256,256.6 266,247.2 272,244.5 278,243.2 290.3,244 297,246 302,248.5 306.5,252 310.9,258 313.4,264 313.6,270 311.2,274 300,286.3 295.3,294 292,297.6 284,302.8 278,304.9 272,305.8 248,307.5 238,306.9 220,303.5 212,303.6 208,305 205.2,308 204.3,312 204.6,316 207.5,326 204.6,340 204.2,346 206,354.8 210,360.8 222,366.3 226,369.2 228.6,372 234,380.5 246.5,386 258,395.2 268,398.7 278,404.3 284.6,410 292,419 306,442 310.6,452 312.8,474 318.6,496 318.7,502 317.4,506 314,509.8 310,511.6 304,512.1 298,510.4 291.7,506 277.7,492 267.2,478 263.4,474 256,470.2 248,470.1 240,473.6 236,476.7 231.4,482 227.6,490 226,502 224.3,508 219.7,516 213.3,522 210,523.5 206,523.9 200.1,522 193.8,516 189.3,510 184,500.9 180,496.7 172,493.1 162,492.7 156,494.4 150,498.5 146,504.4 138.3,522 134,529.2 128,535.6 122,539.6 120,540ZM376,262.3 372,263.6 368,264 364,262.2 362.7,260 361.5,254 362,249.6 364,245.6 368,242.7 372,242.1 376,243.2 379.4,246 381.8,250 382.5,254 381.4,258 379.7,260 376,262.3ZM572,382.5 568,383.6 564,383.3 556,379.5 550,373.8 538.3,358 537.5,352 542,340.5 548,332.6 554,329.1 560,328.9 566,331.8 570,336.4 573.6,344 578.9,362 579.6,370 578.9,374 577,378 572,382.5ZM534,472.1 528,472.4 522,470.8 504,461.4 488,454.9 482,451.6 476,446.2 470.4,438 469.7,434 471.9,428 478,422.6 490,417.7 500,415.8 506,417.5 510,421.7 515.6,432 518,435 534,441.7 537,444 539.9,448 541.8,456 541.5,464 540,467.6 538,470 534,472.1ZM364,484.1 362.2,482 362.3,468 363.5,452 366.1,442 369.3,436 372,432.9 376,430 380,428.4 392,427.1 408,429.4 412,431 416.1,434 419.9,440 421.4,452 420.3,466 418.6,470 416,473.2 412,475.3 406,475.9 374,472.6 371,474 368.9,476 366,482.6 364,484.1Z"/>
<path fill="#ff8900" d="M116,540 106,539.8 98.7,536 93.9,530 92.3,526 91.2,520 92.9,498 93,482 94.2,474 98.9,462 106.6,452 120,441.7 134,434.9 138,434.2 144,434.5 158,438.8 164,439.8 168,439.2 182,434.8 198,436.8 206,436.6 218.4,434 228,430.4 232,426.5 232.7,422 229.8,416 224,411 204,400.4 196,397.9 188,397.8 174,400.1 156,404.3 142,409.3 138,409.7 134,409.1 130,407.3 119.3,400 108,394.8 102,390.1 99.3,386 98.3,382 98.7,378 100.6,374 105.1,370 110,367.8 136,358.8 154,355.4 158,353 162,349 172.4,334 176.2,326 177.1,320 177.8,296 180.8,282 186.7,272 194,264.7 200,261.9 206,260.9 230,263 244,261.5 256,257.7 266,248.5 270,246.6 276,245.1 282,244.9 288,245.9 294.6,248 300,250.7 304.2,254 308.5,260 310.4,266 310,270 308,274 300,284.4 294.3,294 290,298.2 286,300.7 280,303.2 272,304.5 262,304.2 242,305.8 236,305.3 224,302.9 214,302.7 208,303.3 204.2,306 202.6,310 202.5,314 205.1,324 205.4,328 202.7,340 202.3,348 204.3,358 206,362 208,364.3 223.2,370 226,372.3 230.5,380 234,383.2 244,386.9 256,396.9 268,402 274.8,406 284,413.9 292,423.8 302.1,440 307.7,452 310.4,474 315.7,496 315.4,502 314,505.2 311.3,508 306,510 302,509.8 298,508.4 292,504 280.4,492 268.4,476 264.2,472 260,469.4 256,468 248,468 244,469.3 238,473 234,476.7 230,481.9 226.6,490 224.7,504 222.5,510 217.1,518 212,521.9 206,523.1 202,522.1 198.7,520 190.4,510 184,499.4 178,494.3 170,491.6 162,491.6 156,493.3 150,497.1 146,502.6 138,520.8 132.1,530 124,536.9 116,540ZM372,258.1 368,258.1 367.2,256 368,252.6 370,250.9 372,250.7 374,251.8 374.8,254 374.3,256 372,258.1ZM568,382.3 562,381.4 554,376 543,362 540,356 540,350 544,340.6 548,335.4 554,331.6 558,331 562,331.9 568,336.6 572,343.8 577.1,360 578.5,368 577.7,374 574,379.7 568,382.3ZM534,470.8 528,471.4 522,469.7 504,460.3 489,454 482,450.1 476,444.8 472.5,440 471,434 472.3,430 478,424.2 488,420 500,417.7 506,419.8 508.1,422 513.6,432 516.7,436 520,437.9 532,442.2 536,445.2 538.2,448 540.3,454 540.6,462 538.1,468 534,470.8ZM414,472.1 410,473.5 406,473.9 390,473.1 376,470.7 366,472 364.5,468 365,452 367.9,442 371.7,436 376,432.4 380,430.6 390,428.9 404,430.2 409.7,432 413,434 417.5,440 419.7,454 418.8,466 416.5,470 414,472.1Z"/>
<path fill="#ff7300" d="M116,538.4 108,538.2 104,536.8 100,534.1 95.5,528 93.4,520 93.4,514 95,500 94.6,482 95.7,474 100.3,462 108.2,452 114,447.1 122,442 130,438.4 136,436.7 144,436.8 164,441.8 182,436.7 202,438.9 221.6,436 228,434 233.8,430 236,426 236.4,422 234,415.2 228,409.1 204,398.1 198,396.3 192,395.8 184,396.9 154,403.3 140,407.5 136,407.4 132,406.3 120,399.2 108.2,394 103,390 100.2,386 99.1,382 99.5,378 101.5,374 104,371.5 108,369.2 128,362.8 155,358 160,355.3 163.4,352 175.3,334 178.7,326 180.2,296 183,282 188.8,272 196,265.4 200,263.7 206,262.6 228,264.6 242,263.4 256,258.9 266,249.7 274,246.8 280,246.6 286,247.7 298,252.9 302,256 305.2,260 307.3,266 307.1,270 305.4,274 294,293 290,297.1 286,299.7 280,302 274,303.1 260,302.1 238,304.2 224,301.8 208,301.7 202.9,304 201.5,306 200.4,310 200.5,314 203,328 200.6,340 200.1,348 202,361.3 203.6,366 205.2,368 208,369.3 220,371.7 224,373.9 228.6,382 230.5,384 244,389.3 256,400.1 266,404.7 274,409.7 284,418.7 292,428.5 301.4,444 305.2,454 307.6,474 312.5,494 312.5,500 310.8,504 308,506.5 304,507.7 297.7,506 292.8,502 283.3,492 271.4,476 266,470.6 258,466.3 250,465.5 244,467.2 240,469.4 234,474.6 230,479.7 226,488.3 224.1,502 222.5,508 218,516 212,521.1 206,522.3 200,519.9 194.4,514 184.1,498 180,494.3 172,490.9 168,490.2 162,490.5 156,492.1 149.8,496 145.3,502 137.4,520 132,528.6 124,535.4 116,538.4ZM570,380.6 564,380.6 560,378.9 556,376 549.3,368 543,358 541.9,352 544.3,344 548.3,338 554,334 560,333.6 564,335.4 568.3,340 572,347.9 576.4,362 577.2,370 575.5,376 574,378.1 570,380.6ZM532,470.2 526,470 520.3,468 506,460.1 488,452.1 482,448.6 476,443.3 472.8,438 472.3,434 473.8,430 478,425.9 486,422.3 498,419.7 504,420.8 507.3,424 513,434 516,437.3 532,443.9 534.7,446 537.6,450 539.6,458 538.9,464 536.3,468 532,470.2ZM412,470.7 406,471.8 390,471.5 370,468.4 368,467.5 366.3,462 366.5,452 368.7,444 372,438.5 376,434.8 380,432.7 390,430.7 404,432 408,433.2 412,435.6 414.2,438 416.1,442 417.7,450 418.2,458 417.2,466 415.9,468 412,470.7Z"/>
<path fill="#ff5900" d="M118,536.3 110,536.6 103.6,534 98.1,528 95.7,520 95.5,514 97.2,500 96.2,484 97.1,474 98.9,468 101.7,462 109.7,452 122,443.5 128,440.8 136,438.8 146,439.1 164,443.8 182,438.5 202,440.8 224.8,438 232,435.5 236.6,432 239.2,428 240.3,422 238.9,416 236.7,412 230,405.7 224,402.6 214,399.7 200,394.3 194,393.8 188,394.4 152,402.2 140,405.6 132,404.7 120,398.1 110,394.1 104.2,390 100.4,384 99.9,380 101.1,376 104.4,372 112,368.3 130,363.4 144,362.7 156,360.6 160,359.1 164.2,356 177.4,336 180.4,330 181.8,324 183.4,292 184.7,284 189.4,274 196,267.4 200,265.4 206,264.3 228,266.5 242,264.9 256,260.2 260,257.2 266,251 270,249 274,248.3 278,248.2 284,249.5 296,255 300,258 303,262 304.5,266 304.4,270 303.1,274 293.7,292 290,296 286,298.6 280,300.9 274,301.8 258,300 242,302.5 236,302.7 224,300.7 214,301.3 206,299.3 204,299.6 200.6,302 198.4,306 197.8,310 200.2,326 198,342 197.8,350 200,366 202,369.9 204,371.7 208,373.4 219.7,376 222,377.8 225.4,384 228,386.6 232,388.3 242,390.7 253.1,402 267.5,410 278,417.8 284,423.5 291,432 298.2,444 301.8,454 304.4,474 309.2,494 309.2,498 307.7,502 304,504.6 300,504.4 298,503.2 286,491.1 273.2,474 268,469 263.3,466 258,463.8 252,462.9 248,463.4 244,464.8 238,468.6 229.6,478 225,488 223.2,502 221.6,508 217,516 212,520.2 206,521.4 200,518.8 194.2,512 185.2,498 180,493.1 176,491.1 170,489.3 162,489.3 154,491.9 148.4,496 144.3,502 137.4,518 132.8,526 126,532.7 118,536.3ZM572,378.2 570,379.2 566,379.6 562,378.4 558.3,376 551.2,368 545.3,358 544.1,352 545.5,346 549.2,340 554,336.5 558,335.7 562,336.7 566,339.8 569.7,346 574.5,360 576,368 575.1,374 572,378.2ZM534,468.1 528,469.2 522,467.6 482,447.1 476.2,442 473.9,438 473.6,434 475.5,430 480,426.4 488,423.5 498,421.9 502,422.3 504,423.3 511,434 514.6,438 518,440.1 530,444.5 534,447.4 536,450 537.7,454 538.4,460 537.5,464 534,468.1ZM396,470 382,468.8 372,466.1 369.4,464 368.1,460 367.8,456 369.6,446 374,439 380,434.9 390,432.5 402,433.3 410,436.5 414,441.8 415.6,448 416.4,456 416.1,464 415,466 410,469.1 396,470Z"/>
<path fill="#ff4300" d="M138,404.1 130,402.4 120,397.2 111.6,394 106,390.5 103.5,388 101.3,384 100.8,380 101.9,376 106,371.6 115,368 130,364.5 142,365.2 158,362.9 164,360.9 167,358 181.3,336 184.2,330 185.4,324 185.3,314 187.6,302 186.8,290 187.3,284 190.3,276 194,271.2 200,267.3 206,266.1 226,268.6 242,266.8 256,261.8 260,258.7 266,252.2 272,249.8 278,249.9 282,251 292,256 298,260.2 301.6,266 301.9,270 300.9,274 292.6,292 288.4,296 284,298.4 274,300.6 256,297.7 238,301.1 224,299.3 214,300.5 209.9,298 208.9,296 211,292 210,290.2 208,289.9 200,296.2 194.7,302 193.9,308 196.4,326 195,348 196.1,362 197.5,368 200,372.7 204,376.2 213.7,380 216.6,382 220,388.7 223.8,394 220.4,396 216,396.6 212,395.8 202,391.6 194,391.4 138,404.1ZM568,378.2 562,376.7 556.3,372 550.6,364 546.9,356 546.6,350 548,345.6 552,340.4 556,338.3 560,338.3 562,339.1 566,342.7 568.8,348 573.1,360 574.4,366 574.3,372 572,376.4 568,378.2ZM120,534.1 112,534.9 108,533.9 104,531.5 100.8,528 98.9,524 97.6,516 99.3,500 97.8,480 99.6,470 103.1,462 107.4,456 113.8,450 120,446 128,442.4 138,440.5 146,440.9 164,445.6 182,440.3 204,442.6 224,440.8 234,438.1 238,435.6 241.5,432 243.7,428 244.8,422 243.4,414 240.6,408 227.2,396 228.6,394 236,392.5 238,392.5 241.2,394 246.4,402 250,405.5 266,414.6 280,424.7 288,433.1 293.9,442 297.7,452 300.3,474 304.5,492 304,498 302,499.7 298,498.4 294,494.8 287.9,488 277.3,474 270,467.2 264,463.4 258,461 252,460.1 248,460.6 242,463.2 238,466.1 232,472.4 228.2,478 224,488 222.2,502 220.7,508 216.1,516 212,519.3 206,520.5 200,517.7 192.6,508 186,497.4 180,492 170,488.2 162,488.2 154,490.7 148,495 143.2,502 137.4,516 133.1,524 128,529.7 120,534.1ZM530,468.1 526,467.8 520,465.6 506,457.6 482,445.6 477.6,442 475,438 475,434 476,431.8 480,428.1 486,425.9 496,424.5 502,425.4 504,427.1 510.4,436 514,439.4 518,441.6 529.7,446 534.2,450 536.8,456 536.9,462 534.7,466 530,468.1ZM398,468.1 390,468.5 382,467.4 374,464.6 371.2,462 369.6,456 370.7,448 373.8,442 378,438.2 386,435 396,434.3 406,436.4 410.8,440 412.7,444 414,450 414.5,458 414,462.6 412,465.4 410,466.5 398,468.1Z"/>
<path fill="#ff2d00" d="M282,298.1 278,299.1 272,299.2 254,294.9 250,295.4 238,299.1 224,297.7 216,299.6 212.5,298 212.4,296 214.6,292 214.9,290 214,287.7 210,286 206,286.5 198,291 194,291.8 192,290.7 190.6,288 190.3,282 191.5,278 193.9,274 200,269.3 208,268.1 226,271.2 244,268.6 250,266.8 256,264 268,252.2 272,251.2 276,251.3 282,253.3 294,260.6 297.5,264 299.3,268 298.2,276 292,291.3 288,295.1 282,298.1ZM142,402.1 136,402.5 132,401.7 108,391 104,387.3 101.7,382 101.9,378 104,374.2 106.5,372 110.5,370 126,366 132,365.5 142,367.2 164,364.9 166.1,364 170,360.3 177.6,348 182,342.7 186,339 188,338.2 190,339.7 190.6,342 194.2,368 196.7,374 201.9,382 202.5,384 202,384.8 201.1,386 198,387.2 176,394.4 142,402.1ZM570,376.1 566,376.5 560,373.2 554,366 549.8,358 548.8,352 549.5,348 552,343.7 556,340.9 560,340.8 562.5,342 565.9,346 568,350.3 572,361.7 573.1,368 572,374 570,376.1ZM120,532.5 114,533.2 109,532 104,528.4 101.3,524 99.7,516 101.5,500 99.3,482 100.4,472 104.5,462 110.8,454 120,447.3 128,444 138,442.2 146,442.6 164,447.1 168,446.5 182,442.1 188,442.2 202,444.4 232,442.5 238,440.5 244,436 248.9,430 252.9,420 254,418.7 256,418.4 268,423.1 278,428.5 284.3,434 290.1,442 292.7,448 294.1,456 293.3,476 292,479.4 288,477.4 274,466 264,460.2 254,456.9 250,456.7 246,457.6 242,459.8 236,465 227.8,476 222.9,488 221.3,502 219.8,508 216.6,514 212,518.4 206,519.6 202,518.1 200,516.4 186.1,496 180,490.7 170,487 162,487 154,489.5 147.6,494 143.2,500 136,517 132,523.9 126,529.7 120,532.5ZM532,466.3 528,466.9 522,465.3 508,457.2 482,444 478,440.8 476.2,438 476,435.9 477.7,432 482,429 488,427.6 498,427.8 502,429.6 509.9,438 514,441.3 528,446.8 532.3,450 534.8,454 535.8,460 534.6,464 532,466.3ZM398,466.1 390,466.9 384,466.3 378,464.5 374,462 371.8,458 371.8,450 374,444.9 378,440.5 386,436.9 394,435.9 402,437 408.1,440 410,442.6 411.7,448 412.3,454 411.8,460 410.9,462 408.3,464 398,466.1Z"/>
<path fill="#ff1300" d="M276,298.1 268,297 252,290.9 250,291 240,296 236,296.8 224,295.1 218,296.4 216,296.1 219.1,290 219,286 217.6,284 216,283 212,282.7 200,286.4 196,286.4 193.7,284 193.4,280 196.5,274 200,271.5 204,270.4 210,270.9 220,274.8 224,275.2 239.9,272 254,270.7 267.3,254 272,252.6 276,253 282,255.8 293.7,264 296.4,268 296.9,272 294,284 290.2,292 284,296.2 276,298.1ZM568,374.5 564,373.6 560,370.5 556,365.3 552.3,358 551.5,354 551.7,350 553.6,346 556,343.9 560,343.5 562,344.6 564.6,348 568,355.3 570.3,362 571.2,368 570.7,372 570,373.4 568,374.5ZM144,400.3 138,401.2 132,400.4 110,391.4 105.7,388 103.1,384 102.4,380 103.6,376 106,373.2 110,370.8 126,366.8 132,366.7 142,368.9 152,367.7 166,367.9 172,364 182,350.5 184,349.6 186,350 188.3,354 189.9,366 193.9,378 194.3,382 193.2,384 187,388 174,393.5 144,400.3ZM122,530.3 116,531.4 112,530.9 106.8,528 103.7,524 101.7,516 103.5,500 100.9,482 101.8,472 105.8,462 112,454.4 120,448.7 130,444.9 140,443.7 148,444.6 164,448.6 168,448.1 178,444.6 184,443.6 202,446.1 240,446.3 244,444.8 256,435.2 268,431.1 272,431.4 278,434 282.7,438 286.9,444 288.9,450 289,456 286.7,462 284,464 278,463.1 252,451.4 246,451 242,453.7 232,466.5 225.3,478 221.8,488 220.3,502 218.8,508 215.6,514 212,517.4 206,518.7 201,516 187.4,496 180.8,490 172,486.3 168,485.6 162,485.9 152,489.4 146,494.2 142.1,500 136,514.7 132.2,522 128,526.7 122,530.3ZM532,464.7 528,465.6 522,464 508,455.6 482,442.2 477.6,438 478.3,434 482,431.1 486,430.1 498,432.3 502,434.1 514,443.2 528,448.6 531.9,452 534,456.3 534.1,462 532,464.7ZM398,464.1 392,465.3 386,465.2 380,463.6 376,461 374,458 373.3,452 374.4,448 378,442.9 384,439.5 392,437.7 400,438.5 404,439.9 406.8,442 409,446 409.9,450 409.3,458 408.1,460 406,461.6 398,464.1Z"/>
<path fill="#e40000" d="M280,296.4 272,296.6 264.6,294 258.4,290 254.9,286 254.1,284 254,280 258,273.9 261.5,264 266,257.3 270,254.4 274,254.4 280,257.1 290,264.3 292,266.2 294.2,270 294.3,278 290.3,290 286,294 280,296.4ZM204,282.7 200,283.5 198,283 196.3,280 196.7,278 198,275.8 202,273.3 206,273.1 208.7,274 210.7,276 210.6,278 208.8,280 204,282.7ZM238,292.2 234,292.7 230,291.3 228.5,290 227.9,288 228.4,284 230.2,280 232.6,278 238,275.9 242,275.9 245.5,278 246.5,280 246.4,282 243.4,288 238,292.2ZM568,370.2 566,371 562,368.8 558.2,364 556.1,360 554.9,356 554.9,352 556,349 558,347.4 560,347.5 562,349.2 566,356.6 568.3,364 568,370.2ZM146,398.5 138,399.8 132,399.2 112,391.5 106.8,388 104,384 103.3,380 104.5,376 106,374 110,371.5 124,367.9 132,367.9 140,370.3 154,369.4 166,370.7 170,369.5 180,364.6 182,364.5 184,366.1 187.2,372 189,378 188.3,382 184.8,386 178.5,390 172,392.7 146,398.5ZM530,464 526,463.9 520,461.5 510,454.7 500.8,450 494,445.1 482.1,440 479.8,438 479.8,436 482,433.8 488,433.5 494,436.8 502,438.2 514,445.5 526.9,450 531.1,454 532.7,458 532.3,462 530,464ZM280,456.1 274,455.9 268,453.5 262.2,450 259.3,446 260.4,442 266,438.3 270,437.3 274,437.9 277.7,440 282,445.2 283.4,450 282.4,454 280,456.1ZM396,462.7 392,463.6 386,463.6 382,462.7 377.8,460 375.5,456 375.3,452 376.4,448 379.6,444 386,440.7 394,439.5 400,440.6 405.2,444 407.4,450 406.7,456 404,459.2 396,462.7ZM122,528.7 116,529.6 110,527.7 106,523.5 103.8,516 105.5,500 102.5,484 102.8,474 104.4,468 107.2,462 111.9,456 116,452.5 126,447.5 132,446 140,445.3 148,446.1 164,449.9 168,449.5 180,445.7 186,445.2 200,447.6 222,448.5 229.3,450 233.1,452 234.3,454 233.8,458 224,477.8 221.1,486 218,507.4 215.9,512 212,516.4 206,517.6 202,515.5 198,510.6 188.8,496 182,489.5 172,485.1 162,484.7 154,487.1 146,492.6 140.9,500 132,520.4 128,525.2 122,528.7Z"/>
<path fill="#c40000" d="M282,294.6 276,295.7 270,294.8 264,291.7 258.9,286 258.4,280 262.9,266 266.1,260 270,256.5 274,256.5 280,259.7 288.4,266 290.3,268 292.3,272 292.4,280 290.1,288 286.9,292 282,294.6ZM202,280.5 200.7,280 200.7,278 202,277.1 204,277.6 203.2,280 202,280.5ZM142,398.1 136,398.5 130,397.5 110.9,390 108,387.9 105,384 104.1,380 105.3,376 108,373.3 112,371.3 120,369.4 128,368.5 142,371.7 154,371.1 166,372.9 178,371.7 182,373.9 183.2,376 183.8,380 182.1,384 177.8,388 174.5,390 161.7,394 142,398.1ZM390,462.1 384,461.6 380.8,460 378.8,458 377.3,454 378.7,448 382,444.5 388,442 394,441.5 400,443.1 402,444.5 404.3,448 404.7,452 404,454.5 402,457.1 398,459.7 390,462.1ZM528,462.2 524,461.4 518,458.4 510,451.2 502.5,448 500.9,446 500.7,444 504,443.4 512,447.9 522,450 526.3,452 528.6,454 530.5,458 530,461.2 528,462.2ZM124,526.3 118,527.8 112,526.4 107.7,522 105.8,516 107.2,500 104.1,484 104.6,472 106.5,466 109.9,460 113.5,456 118,452.6 126,448.8 136,447 146,447.2 164,451.2 168,450.8 180,447.3 186,446.8 200,449.1 220,450.7 226,452.8 229.2,456 229,462 220,486 217.4,506 214.8,512 212,515.2 210,516.2 206,516.4 202,514 188.6,494 182,488.1 172,483.9 162,483.4 152,486.8 144,493.3 139.8,500 132,518.4 128,523.6 124,526.3Z"/>
<path fill="#a80000" d="M280,294 274,294.3 268,292.3 262.9,288 261.1,284 261.4,278 265.2,266 268,261.1 270,259.4 272,258.8 276,259.8 285,266 288.9,270 290.6,274 290.7,282 288.7,288 284.9,292 280,294ZM146,396.1 138,397.3 132,396.8 112.6,390 108,386.7 105.9,384 105,380 106,376.4 108.1,374 112,372 120.4,370 128,369.4 140,372.7 154,372.7 164,374.7 174,375.6 178.1,378 178.9,380 178,384 174,388.1 163.8,392 146,396.1ZM392,460 388,460.4 384,459.5 381.7,458 379.6,454 380.1,450 382,447.2 386,444.6 390,443.5 394,443.6 398,445 400,446.6 401.6,450 400.8,454 399.3,456 396,458.4 392,460ZM124,524.7 118,526 112.4,524 109.1,520 107.7,514 108.7,500 105.6,484 105.7,474 107.1,468 110,462 113.1,458 118,453.9 126,450.2 136,448.4 146,448.6 164,452.6 168,452.2 180,448.8 186,448.3 215.8,452 221.5,454 224.2,456 226.1,460 225.8,464 218.7,486 216.2,506 214,511.2 211.7,514 208,515.3 204,514 200,509.5 190.1,494 182,486.8 172,482.6 162,482.1 152,485.5 143.6,492 139.6,498 130,519.5 127.9,522 124,524.7ZM526,458.3 522,457.9 519.3,456 518.6,454 520,453.1 524,453.9 526.1,456 526,458.3Z"/>
<path fill="#8d0000" d="M282,292.1 276,293.2 270.7,292 265.4,288 263.4,284 263.6,278 266,270 268,265.7 270,263.2 272,262.2 276,262.8 282,266.3 286.2,270 288.5,274 289.4,280 288.3,286 286,289.5 282,292.1ZM138,396 128,394.7 116,390.6 110.9,388 108,385.4 106.2,382 106,378.9 107.2,376 110,373.6 114.3,372 128,370.5 132,371.1 140,373.8 156,374.6 170,378 174,380.8 174.1,384 172.8,386 170,388 154,393.2 138,396ZM390,458.3 386.2,458 384,456.8 382.2,454 382.1,452 384,448.3 386,446.8 390,445.6 394,446 397.1,448 398.1,452 395.5,456 390,458.3ZM120,524 116,523.4 113.5,522 111.7,520 110,516 109.5,510 110.1,500 106.8,480 107.5,472 109.3,466 112.9,460 118,455.4 126,451.6 136,449.8 145.6,450 164,453.9 168,453.6 180,450.3 186,449.8 214,453.7 218,455.1 221.7,458 223.3,462 223.2,466 217.4,486 215.5,504 213.2,510 210,513.3 206,513.4 203.8,512 191.7,494 184,486.6 174,481.7 168,480.5 162,480.7 152,484.1 143.9,490 138.3,498 132,513.2 128.1,520 124,522.9 120,524Z"/>
</g><path d="M97.0,505.0 L95.7,502.5 L95.1,499.9 L95.7,497.5 L97.0,495.0 L98.5,492.5 L99.4,490.1 L99.2,487.5 L98.2,485.0 L96.8,482.5 L95.9,479.9 L95.9,477.4 L97.0,475.0 L98.5,472.5 L99.7,470.1 L100.0,467.6 L99.3,465.0 L97.9,462.5 L96.8,459.9 L96.4,457.4 L97.2,455.0 L98.6,452.5 L100.0,450.0 L100.7,447.6 L100.4,445.1 L99.2,442.5 L98.0,439.5 L98.5,436.6 L100.1,434.3 L102.7,432.5 L105.4,430.2 L106.3,427.8 L106.1,425.2 L105.1,422.5 L104.1,419.8 L103.7,417.2 L104.4,415.4 L105.0,412.6 L105.8,409.7 L105.9,407.0 L104.9,404.6 L103.1,402.4 L101.0,400.3 L99.5,398.0 L99.0,395.4 L99.5,392.6 L100.3,389.7 L100.5,387.0 L99.8,385.1 L98.8,382.6 L97.6,379.9 L96.8,377.4 L96.9,374.9 L98.1,372.4 L99.8,370.0 L101.1,367.6 L101.5,365.2 L100.9,362.6 L99.7,359.9 L99.2,357.0 L99.6,354.4 L101.1,352.1 L103.2,350.2 L105.9,349.0 L108.0,347.3 L109.1,344.8 L109.7,341.9 L109.7,338.9 L110.5,336.3 L112.5,334.3 L115.0,332.5 L117.3,330.6 L118.6,328.2 L118.9,325.4 L118.7,322.2 L118.9,319.2 L120.1,316.7 L122.5,314.7 L125.2,313.0 L127.3,310.9 L128.2,308.2 L128.2,305.1 L127.8,302.0 L128.1,299.3 L129.6,297.0 L132.0,295.0 L134.3,293.0 L135.7,291.0 L136.6,288.1 L136.7,284.8 L137.0,281.6 L138.9,278.5 L141.5,277.8 L144.4,277.5 L147.0,276.9 L149.2,275.6 L150.7,273.4 L151.9,270.7 L153.9,268.3 L156.4,266.9 L159.5,266.7 L162.8,267.0 L165.4,266.9 L167.8,266.2 L170.1,264.6 L172.3,262.7 L174.6,261.2 L177.1,260.7 L179.9,261.2 L182.5,262.5 L185.1,263.4 L187.6,263.4 L190.1,262.4 L192.5,260.8 L194.9,259.4 L197.4,258.9 L199.9,259.4 L202.5,260.6 L205.1,261.8 L207.6,262.2 L210.0,261.5 L212.5,260.1 L215.0,258.6 L217.4,257.8 L220.0,258.0 L222.5,259.2 L225.0,260.5 L227.6,261.4 L230.1,261.2 L232.5,260.1 L235.0,258.6 L237.4,257.4 L239.9,257.2 L242.5,258.0 L245.4,259.2 L247.5,257.3 L248.8,255.1 L248.9,252.8 L249.5,249.1 L250.8,245.5 L252.9,244.0 L255.6,243.2 L258.2,242.9 L262.0,242.9 L264.9,241.0 L268.1,239.6 L271.2,238.8 L275.4,240.2 L275.6,243.2 L275.6,246.3 L276.1,248.6 L277.8,251.6 L280.0,254.5 L282.5,254.5 L285.1,254.5 L287.6,254.5 L290.1,254.5 L292.6,254.5 L295.2,254.4 L297.7,254.4 L300.2,254.4 L302.7,254.4 L305.3,254.4 L307.8,254.4 L310.3,254.4 L312.8,254.4 L315.4,254.4 L317.9,254.4 L320.4,254.4 L322.9,254.4 L325.5,254.3 L328.0,254.3 L330.5,254.3 L333.1,254.3 L335.6,254.3 L338.1,254.3 L340.6,254.3 L343.2,254.3 L345.7,254.3 L348.2,254.3 L350.7,254.3 L353.3,254.2 L355.8,254.2 L358.3,254.2 L360.8,254.2 L363.4,254.2 L365.9,254.2 L368.4,254.2 L370.9,254.2 L373.5,254.2 L376.0,254.2 L378.5,254.2 L381.1,254.1 L383.6,254.1 L386.1,254.1 L388.6,254.1 L391.2,254.1 L393.7,254.1 L396.2,254.1 L398.7,254.1 L401.3,254.1 L403.8,254.1 L406.3,254.1 L408.8,254.1 L411.4,254.0 L413.9,254.0 L416.4,254.0 L418.9,254.0 L421.5,254.0 L423.6,254.9 L426.9,254.6 L430.0,254.7 L432.5,256.0 L434.6,258.4 L436.7,261.1 L439.2,262.6 L442.0,262.8 L445.0,262.1 L448.0,261.3 L450.8,261.4 L453.9,263.0 L455.0,266.2 L456.2,269.3 L458.3,271.4 L461.4,272.5 L464.4,273.0 L467.4,273.1 L470.0,274.6 L472.2,277.1 L474.5,279.5 L477.4,280.8 L481.0,280.6 L483.6,279.3 L486.1,278.5 L488.6,278.6 L491.1,279.8 L493.5,281.4 L495.1,282.5 L497.7,284.2 L501.1,284.7 L504.9,285.1 L507.2,286.4 L508.7,288.5 L509.6,291.2 L510.4,294.0 L511.6,296.4 L513.6,298.0 L516.3,298.9 L519.1,299.7 L521.6,300.8 L522.8,302.4 L524.7,304.7 L526.4,307.3 L528.3,309.3 L530.8,310.3 L533.8,310.4 L536.7,310.3 L539.3,310.7 L541.5,312.0 L543.1,314.2 L544.6,316.6 L546.2,318.9 L548.3,320.3 L551.0,320.8 L554.0,320.8 L556.7,321.2 L559.0,322.4 L560.8,324.7 L562.3,327.6 L564.0,330.0 L566.3,331.5 L569.3,332.0 L572.8,332.5 L575.1,334.4 L576.2,337.0 L576.4,340.1 L576.5,343.2 L577.2,345.8 L578.6,348.0 L580.9,349.8 L583.2,351.7 L584.8,353.8 L585.4,356.4 L585.1,359.5 L584.7,362.5 L585.1,365.2 L586.7,367.5 L589.0,369.5 L591.4,371.6 L592.6,373.9 L592.8,376.5 L592.2,379.3 L591.6,382.1 L591.7,384.7 L592.8,387.0 L594.7,388.9 L595.7,392.1 L595.8,395.0 L594.5,397.7 L592.3,400.1 L590.5,402.3 L589.1,404.8 L588.8,407.8 L589.1,411.1 L588.9,414.2 L587.5,416.7 L584.9,418.8 L582.2,420.9 L580.4,423.4 L580.1,426.4 L579.9,429.5 L579.5,432.5 L578.1,434.8 L575.6,436.6 L572.6,437.4 L570.0,438.5 L568.1,440.3 L566.9,442.9 L566.2,445.9 L565.1,448.6 L563.2,450.4 L560.5,451.5 L557.6,452.3 L554.9,453.4 L553.1,455.3 L552.0,458.0 L551.2,461.0 L550.1,463.6 L548.1,465.4 L545.4,466.5 L542.3,466.8 L539.6,467.6 L537.5,469.3 L536.1,471.8 L534.9,474.7 L533.3,477.0 L530.9,478.4 L527.9,478.8 L524.7,479.0 L521.9,479.8 L519.9,481.7 L518.3,484.5 L516.3,487.4 L513.7,488.5 L511.0,488.3 L508.1,487.4 L505.2,486.5 L502.5,486.5 L500.0,487.8 L497.7,489.7 L495.1,491.6 L492.6,492.2 L490.0,491.7 L487.3,490.5 L484.6,489.4 L482.0,489.1 L479.5,490.0 L477.1,491.6 L474.7,493.2 L472.2,494.0 L469.5,493.7 L466.7,492.5 L463.9,491.3 L461.1,491.0 L458.5,491.9 L456.0,493.6 L453.5,495.3 L450.9,496.0 L448.1,495.5 L445.3,494.2 L442.5,493.2 L438.2,494.2 L437.9,496.9 L438.2,499.8 L438.3,502.8 L437.2,505.4 L434.0,507.7 L431.3,506.2 L428.7,504.9 L426.0,504.5 L423.3,505.4 L420.7,506.9 L418.0,508.2 L415.3,508.5 L412.7,507.6 L410.0,506.0 L407.3,504.8 L404.7,504.6 L402.8,505.9 L399.2,504.3 L396.1,501.6 L395.8,498.4 L396.0,494.4 L393.3,493.3 L390.7,493.2 L388.0,494.3 L385.4,495.9 L382.8,497.1 L380.2,497.3 L377.5,496.4 L374.8,494.9 L372.2,493.8 L369.5,493.8 L366.9,494.9 L364.3,496.5 L361.7,497.7 L360.6,496.9 L358.4,498.7 L355.7,500.3 L353.3,502.2 L352.2,504.7 L352.0,507.8 L352.2,511.0 L350.0,513.0 L347.5,513.0 L344.9,513.0 L342.4,513.0 L339.9,513.0 L337.4,513.0 L334.8,513.0 L332.3,513.0 L329.8,513.0 L327.2,513.0 L324.7,513.0 L322.2,513.0 L319.6,513.0 L317.1,513.0 L314.6,513.0 L312.1,513.0 L309.5,513.0 L307.0,513.0 L304.5,513.0 L301.9,513.0 L299.4,513.0 L296.9,513.0 L294.4,513.0 L291.8,513.0 L289.3,513.0 L286.8,513.0 L284.2,513.0 L281.7,513.0 L279.2,513.0 L276.6,513.0 L274.1,513.0 L271.6,513.0 L269.1,513.0 L266.5,513.0 L265.8,513.3 L263.9,516.1 L261.8,518.8 L260.5,521.7 L262.0,523.8 L259.4,525.4 L256.9,526.7 L254.3,527.2 L251.7,526.6 L249.1,525.2 L246.5,524.0 L243.9,523.6 L241.3,524.3 L238.8,525.8 L236.2,527.3 L233.6,527.9 L231.0,527.4 L228.4,526.1 L225.8,524.8 L223.2,524.3 L220.6,524.9 L218.1,526.3 L215.5,527.8 L213.0,528.6 L210.4,528.2 L207.8,527.0 L205.1,525.6 L202.5,524.9 L199.9,525.4 L197.5,526.7 L195.0,528.2 L192.6,529.2 L190.1,529.1 L187.5,528.1 L185.0,526.7 L182.4,525.7 L179.9,525.8 L177.5,526.8 L175.0,528.4 L172.6,529.6 L170.1,530.0 L167.5,529.3 L165.0,527.9 L162.4,526.7 L159.9,526.3 L157.5,527.0 L155.0,528.5 L152.5,529.9 L150.1,530.7 L147.6,530.3 L145.0,529.2 L142.5,527.8 L139.7,527.1 L137.1,527.7 L134.8,529.4 L132.5,531.3 L130.0,532.6 L127.4,532.9 L124.7,532.1 L122.8,531.5 L122.3,528.7 L120.8,526.5 L118.2,524.6 L115.0,525.1 L112.1,524.9 L109.7,523.4 L107.6,521.1 L106.3,519.3 L105.4,516.6 L103.4,514.4 L100.6,512.7 L98.1,510.8 L96.7,508.4Z" fill="none" stroke="#2028f0" stroke-opacity="0.5" stroke-width="6" filter="url(#b2)"/><rect x="282" y="252" width="61" height="8" fill="#0008e0" filter="url(#b05)"/></g>
<clipPath id="cblob"><path d="M97.0,505.0 L95.7,502.5 L95.1,499.9 L95.7,497.5 L97.0,495.0 L98.5,492.5 L99.4,490.1 L99.2,487.5 L98.2,485.0 L96.8,482.5 L95.9,479.9 L95.9,477.4 L97.0,475.0 L98.5,472.5 L99.7,470.1 L100.0,467.6 L99.3,465.0 L97.9,462.5 L96.8,459.9 L96.4,457.4 L97.2,455.0 L98.6,452.5 L100.0,450.0 L100.7,447.6 L100.4,445.1 L99.2,442.5 L98.0,439.5 L98.5,436.6 L100.1,434.3 L102.7,432.5 L105.4,430.2 L106.3,427.8 L106.1,425.2 L105.1,422.5 L104.1,419.8 L103.7,417.2 L104.4,415.4 L105.0,412.6 L105.8,409.7 L105.9,407.0 L104.9,404.6 L103.1,402.4 L101.0,400.3 L99.5,398.0 L99.0,395.4 L99.5,392.6 L100.3,389.7 L100.5,387.0 L99.8,385.1 L98.8,382.6 L97.6,379.9 L96.8,377.4 L96.9,374.9 L98.1,372.4 L99.8,370.0 L101.1,367.6 L101.5,365.2 L100.9,362.6 L99.7,359.9 L99.2,357.0 L99.6,354.4 L101.1,352.1 L103.2,350.2 L105.9,349.0 L108.0,347.3 L109.1,344.8 L109.7,341.9 L109.7,338.9 L110.5,336.3 L112.5,334.3 L115.0,332.5 L117.3,330.6 L118.6,328.2 L118.9,325.4 L118.7,322.2 L118.9,319.2 L120.1,316.7 L122.5,314.7 L125.2,313.0 L127.3,310.9 L128.2,308.2 L128.2,305.1 L127.8,302.0 L128.1,299.3 L129.6,297.0 L132.0,295.0 L134.3,293.0 L135.7,291.0 L136.6,288.1 L136.7,284.8 L137.0,281.6 L138.9,278.5 L141.5,277.8 L144.4,277.5 L147.0,276.9 L149.2,275.6 L150.7,273.4 L151.9,270.7 L153.9,268.3 L156.4,266.9 L159.5,266.7 L162.8,267.0 L165.4,266.9 L167.8,266.2 L170.1,264.6 L172.3,262.7 L174.6,261.2 L177.1,260.7 L179.9,261.2 L182.5,262.5 L185.1,263.4 L187.6,263.4 L190.1,262.4 L192.5,260.8 L194.9,259.4 L197.4,258.9 L199.9,259.4 L202.5,260.6 L205.1,261.8 L207.6,262.2 L210.0,261.5 L212.5,260.1 L215.0,258.6 L217.4,257.8 L220.0,258.0 L222.5,259.2 L225.0,260.5 L227.6,261.4 L230.1,261.2 L232.5,260.1 L235.0,258.6 L237.4,257.4 L239.9,257.2 L242.5,258.0 L245.4,259.2 L247.5,257.3 L248.8,255.1 L248.9,252.8 L249.5,249.1 L250.8,245.5 L252.9,244.0 L255.6,243.2 L258.2,242.9 L262.0,242.9 L264.9,241.0 L268.1,239.6 L271.2,238.8 L275.4,240.2 L275.6,243.2 L275.6,246.3 L276.1,248.6 L277.8,251.6 L280.0,254.5 L282.5,254.5 L285.1,254.5 L287.6,254.5 L290.1,254.5 L292.6,254.5 L295.2,254.4 L297.7,254.4 L300.2,254.4 L302.7,254.4 L305.3,254.4 L307.8,254.4 L310.3,254.4 L312.8,254.4 L315.4,254.4 L317.9,254.4 L320.4,254.4 L322.9,254.4 L325.5,254.3 L328.0,254.3 L330.5,254.3 L333.1,254.3 L335.6,254.3 L338.1,254.3 L340.6,254.3 L343.2,254.3 L345.7,254.3 L348.2,254.3 L350.7,254.3 L353.3,254.2 L355.8,254.2 L358.3,254.2 L360.8,254.2 L363.4,254.2 L365.9,254.2 L368.4,254.2 L370.9,254.2 L373.5,254.2 L376.0,254.2 L378.5,254.2 L381.1,254.1 L383.6,254.1 L386.1,254.1 L388.6,254.1 L391.2,254.1 L393.7,254.1 L396.2,254.1 L398.7,254.1 L401.3,254.1 L403.8,254.1 L406.3,254.1 L408.8,254.1 L411.4,254.0 L413.9,254.0 L416.4,254.0 L418.9,254.0 L421.5,254.0 L423.6,254.9 L426.9,254.6 L430.0,254.7 L432.5,256.0 L434.6,258.4 L436.7,261.1 L439.2,262.6 L442.0,262.8 L445.0,262.1 L448.0,261.3 L450.8,261.4 L453.9,263.0 L455.0,266.2 L456.2,269.3 L458.3,271.4 L461.4,272.5 L464.4,273.0 L467.4,273.1 L470.0,274.6 L472.2,277.1 L474.5,279.5 L477.4,280.8 L481.0,280.6 L483.6,279.3 L486.1,278.5 L488.6,278.6 L491.1,279.8 L493.5,281.4 L495.1,282.5 L497.7,284.2 L501.1,284.7 L504.9,285.1 L507.2,286.4 L508.7,288.5 L509.6,291.2 L510.4,294.0 L511.6,296.4 L513.6,298.0 L516.3,298.9 L519.1,299.7 L521.6,300.8 L522.8,302.4 L524.7,304.7 L526.4,307.3 L528.3,309.3 L530.8,310.3 L533.8,310.4 L536.7,310.3 L539.3,310.7 L541.5,312.0 L543.1,314.2 L544.6,316.6 L546.2,318.9 L548.3,320.3 L551.0,320.8 L554.0,320.8 L556.7,321.2 L559.0,322.4 L560.8,324.7 L562.3,327.6 L564.0,330.0 L566.3,331.5 L569.3,332.0 L572.8,332.5 L575.1,334.4 L576.2,337.0 L576.4,340.1 L576.5,343.2 L577.2,345.8 L578.6,348.0 L580.9,349.8 L583.2,351.7 L584.8,353.8 L585.4,356.4 L585.1,359.5 L584.7,362.5 L585.1,365.2 L586.7,367.5 L589.0,369.5 L591.4,371.6 L592.6,373.9 L592.8,376.5 L592.2,379.3 L591.6,382.1 L591.7,384.7 L592.8,387.0 L594.7,388.9 L595.7,392.1 L595.8,395.0 L594.5,397.7 L592.3,400.1 L590.5,402.3 L589.1,404.8 L588.8,407.8 L589.1,411.1 L588.9,414.2 L587.5,416.7 L584.9,418.8 L582.2,420.9 L580.4,423.4 L580.1,426.4 L579.9,429.5 L579.5,432.5 L578.1,434.8 L575.6,436.6 L572.6,437.4 L570.0,438.5 L568.1,440.3 L566.9,442.9 L566.2,445.9 L565.1,448.6 L563.2,450.4 L560.5,451.5 L557.6,452.3 L554.9,453.4 L553.1,455.3 L552.0,458.0 L551.2,461.0 L550.1,463.6 L548.1,465.4 L545.4,466.5 L542.3,466.8 L539.6,467.6 L537.5,469.3 L536.1,471.8 L534.9,474.7 L533.3,477.0 L530.9,478.4 L527.9,478.8 L524.7,479.0 L521.9,479.8 L519.9,481.7 L518.3,484.5 L516.3,487.4 L513.7,488.5 L511.0,488.3 L508.1,487.4 L505.2,486.5 L502.5,486.5 L500.0,487.8 L497.7,489.7 L495.1,491.6 L492.6,492.2 L490.0,491.7 L487.3,490.5 L484.6,489.4 L482.0,489.1 L479.5,490.0 L477.1,491.6 L474.7,493.2 L472.2,494.0 L469.5,493.7 L466.7,492.5 L463.9,491.3 L461.1,491.0 L458.5,491.9 L456.0,493.6 L453.5,495.3 L450.9,496.0 L448.1,495.5 L445.3,494.2 L442.5,493.2 L438.2,494.2 L437.9,496.9 L438.2,499.8 L438.3,502.8 L437.2,505.4 L434.0,507.7 L431.3,506.2 L428.7,504.9 L426.0,504.5 L423.3,505.4 L420.7,506.9 L418.0,508.2 L415.3,508.5 L412.7,507.6 L410.0,506.0 L407.3,504.8 L404.7,504.6 L402.8,505.9 L399.2,504.3 L396.1,501.6 L395.8,498.4 L396.0,494.4 L393.3,493.3 L390.7,493.2 L388.0,494.3 L385.4,495.9 L382.8,497.1 L380.2,497.3 L377.5,496.4 L374.8,494.9 L372.2,493.8 L369.5,493.8 L366.9,494.9 L364.3,496.5 L361.7,497.7 L360.6,496.9 L358.4,498.7 L355.7,500.3 L353.3,502.2 L352.2,504.7 L352.0,507.8 L352.2,511.0 L350.0,513.0 L347.5,513.0 L344.9,513.0 L342.4,513.0 L339.9,513.0 L337.4,513.0 L334.8,513.0 L332.3,513.0 L329.8,513.0 L327.2,513.0 L324.7,513.0 L322.2,513.0 L319.6,513.0 L317.1,513.0 L314.6,513.0 L312.1,513.0 L309.5,513.0 L307.0,513.0 L304.5,513.0 L301.9,513.0 L299.4,513.0 L296.9,513.0 L294.4,513.0 L291.8,513.0 L289.3,513.0 L286.8,513.0 L284.2,513.0 L281.7,513.0 L279.2,513.0 L276.6,513.0 L274.1,513.0 L271.6,513.0 L269.1,513.0 L266.5,513.0 L265.8,513.3 L263.9,516.1 L261.8,518.8 L260.5,521.7 L262.0,523.8 L259.4,525.4 L256.9,526.7 L254.3,527.2 L251.7,526.6 L249.1,525.2 L246.5,524.0 L243.9,523.6 L241.3,524.3 L238.8,525.8 L236.2,527.3 L233.6,527.9 L231.0,527.4 L228.4,526.1 L225.8,524.8 L223.2,524.3 L220.6,524.9 L218.1,526.3 L215.5,527.8 L213.0,528.6 L210.4,528.2 L207.8,527.0 L205.1,525.6 L202.5,524.9 L199.9,525.4 L197.5,526.7 L195.0,528.2 L192.6,529.2 L190.1,529.1 L187.5,528.1 L185.0,526.7 L182.4,525.7 L179.9,525.8 L177.5,526.8 L175.0,528.4 L172.6,529.6 L170.1,530.0 L167.5,529.3 L165.0,527.9 L162.4,526.7 L159.9,526.3 L157.5,527.0 L155.0,528.5 L152.5,529.9 L150.1,530.7 L147.6,530.3 L145.0,529.2 L142.5,527.8 L139.7,527.1 L137.1,527.7 L134.8,529.4 L132.5,531.3 L130.0,532.6 L127.4,532.9 L124.7,532.1 L122.8,531.5 L122.3,528.7 L120.8,526.5 L118.2,524.6 L115.0,525.1 L112.1,524.9 L109.7,523.4 L107.6,521.1 L106.3,519.3 L105.4,516.6 L103.4,514.4 L100.6,512.7 L98.1,510.8 L96.7,508.4Z"/></clipPath>
<mask id="mblob" maskUnits="userSpaceOnUse" x="80" y="220" width="540" height="330"><path d="M97.0,505.0 L95.7,502.5 L95.1,499.9 L95.7,497.5 L97.0,495.0 L98.5,492.5 L99.4,490.1 L99.2,487.5 L98.2,485.0 L96.8,482.5 L95.9,479.9 L95.9,477.4 L97.0,475.0 L98.5,472.5 L99.7,470.1 L100.0,467.6 L99.3,465.0 L97.9,462.5 L96.8,459.9 L96.4,457.4 L97.2,455.0 L98.6,452.5 L100.0,450.0 L100.7,447.6 L100.4,445.1 L99.2,442.5 L98.0,439.5 L98.5,436.6 L100.1,434.3 L102.7,432.5 L105.4,430.2 L106.3,427.8 L106.1,425.2 L105.1,422.5 L104.1,419.8 L103.7,417.2 L104.4,415.4 L105.0,412.6 L105.8,409.7 L105.9,407.0 L104.9,404.6 L103.1,402.4 L101.0,400.3 L99.5,398.0 L99.0,395.4 L99.5,392.6 L100.3,389.7 L100.5,387.0 L99.8,385.1 L98.8,382.6 L97.6,379.9 L96.8,377.4 L96.9,374.9 L98.1,372.4 L99.8,370.0 L101.1,367.6 L101.5,365.2 L100.9,362.6 L99.7,359.9 L99.2,357.0 L99.6,354.4 L101.1,352.1 L103.2,350.2 L105.9,349.0 L108.0,347.3 L109.1,344.8 L109.7,341.9 L109.7,338.9 L110.5,336.3 L112.5,334.3 L115.0,332.5 L117.3,330.6 L118.6,328.2 L118.9,325.4 L118.7,322.2 L118.9,319.2 L120.1,316.7 L122.5,314.7 L125.2,313.0 L127.3,310.9 L128.2,308.2 L128.2,305.1 L127.8,302.0 L128.1,299.3 L129.6,297.0 L132.0,295.0 L134.3,293.0 L135.7,291.0 L136.6,288.1 L136.7,284.8 L137.0,281.6 L138.9,278.5 L141.5,277.8 L144.4,277.5 L147.0,276.9 L149.2,275.6 L150.7,273.4 L151.9,270.7 L153.9,268.3 L156.4,266.9 L159.5,266.7 L162.8,267.0 L165.4,266.9 L167.8,266.2 L170.1,264.6 L172.3,262.7 L174.6,261.2 L177.1,260.7 L179.9,261.2 L182.5,262.5 L185.1,263.4 L187.6,263.4 L190.1,262.4 L192.5,260.8 L194.9,259.4 L197.4,258.9 L199.9,259.4 L202.5,260.6 L205.1,261.8 L207.6,262.2 L210.0,261.5 L212.5,260.1 L215.0,258.6 L217.4,257.8 L220.0,258.0 L222.5,259.2 L225.0,260.5 L227.6,261.4 L230.1,261.2 L232.5,260.1 L235.0,258.6 L237.4,257.4 L239.9,257.2 L242.5,258.0 L245.4,259.2 L247.5,257.3 L248.8,255.1 L248.9,252.8 L249.5,249.1 L250.8,245.5 L252.9,244.0 L255.6,243.2 L258.2,242.9 L262.0,242.9 L264.9,241.0 L268.1,239.6 L271.2,238.8 L275.4,240.2 L275.6,243.2 L275.6,246.3 L276.1,248.6 L277.8,251.6 L280.0,254.5 L282.5,254.5 L285.1,254.5 L287.6,254.5 L290.1,254.5 L292.6,254.5 L295.2,254.4 L297.7,254.4 L300.2,254.4 L302.7,254.4 L305.3,254.4 L307.8,254.4 L310.3,254.4 L312.8,254.4 L315.4,254.4 L317.9,254.4 L320.4,254.4 L322.9,254.4 L325.5,254.3 L328.0,254.3 L330.5,254.3 L333.1,254.3 L335.6,254.3 L338.1,254.3 L340.6,254.3 L343.2,254.3 L345.7,254.3 L348.2,254.3 L350.7,254.3 L353.3,254.2 L355.8,254.2 L358.3,254.2 L360.8,254.2 L363.4,254.2 L365.9,254.2 L368.4,254.2 L370.9,254.2 L373.5,254.2 L376.0,254.2 L378.5,254.2 L381.1,254.1 L383.6,254.1 L386.1,254.1 L388.6,254.1 L391.2,254.1 L393.7,254.1 L396.2,254.1 L398.7,254.1 L401.3,254.1 L403.8,254.1 L406.3,254.1 L408.8,254.1 L411.4,254.0 L413.9,254.0 L416.4,254.0 L418.9,254.0 L421.5,254.0 L423.6,254.9 L426.9,254.6 L430.0,254.7 L432.5,256.0 L434.6,258.4 L436.7,261.1 L439.2,262.6 L442.0,262.8 L445.0,262.1 L448.0,261.3 L450.8,261.4 L453.9,263.0 L455.0,266.2 L456.2,269.3 L458.3,271.4 L461.4,272.5 L464.4,273.0 L467.4,273.1 L470.0,274.6 L472.2,277.1 L474.5,279.5 L477.4,280.8 L481.0,280.6 L483.6,279.3 L486.1,278.5 L488.6,278.6 L491.1,279.8 L493.5,281.4 L495.1,282.5 L497.7,284.2 L501.1,284.7 L504.9,285.1 L507.2,286.4 L508.7,288.5 L509.6,291.2 L510.4,294.0 L511.6,296.4 L513.6,298.0 L516.3,298.9 L519.1,299.7 L521.6,300.8 L522.8,302.4 L524.7,304.7 L526.4,307.3 L528.3,309.3 L530.8,310.3 L533.8,310.4 L536.7,310.3 L539.3,310.7 L541.5,312.0 L543.1,314.2 L544.6,316.6 L546.2,318.9 L548.3,320.3 L551.0,320.8 L554.0,320.8 L556.7,321.2 L559.0,322.4 L560.8,324.7 L562.3,327.6 L564.0,330.0 L566.3,331.5 L569.3,332.0 L572.8,332.5 L575.1,334.4 L576.2,337.0 L576.4,340.1 L576.5,343.2 L577.2,345.8 L578.6,348.0 L580.9,349.8 L583.2,351.7 L584.8,353.8 L585.4,356.4 L585.1,359.5 L584.7,362.5 L585.1,365.2 L586.7,367.5 L589.0,369.5 L591.4,371.6 L592.6,373.9 L592.8,376.5 L592.2,379.3 L591.6,382.1 L591.7,384.7 L592.8,387.0 L594.7,388.9 L595.7,392.1 L595.8,395.0 L594.5,397.7 L592.3,400.1 L590.5,402.3 L589.1,404.8 L588.8,407.8 L589.1,411.1 L588.9,414.2 L587.5,416.7 L584.9,418.8 L582.2,420.9 L580.4,423.4 L580.1,426.4 L579.9,429.5 L579.5,432.5 L578.1,434.8 L575.6,436.6 L572.6,437.4 L570.0,438.5 L568.1,440.3 L566.9,442.9 L566.2,445.9 L565.1,448.6 L563.2,450.4 L560.5,451.5 L557.6,452.3 L554.9,453.4 L553.1,455.3 L552.0,458.0 L551.2,461.0 L550.1,463.6 L548.1,465.4 L545.4,466.5 L542.3,466.8 L539.6,467.6 L537.5,469.3 L536.1,471.8 L534.9,474.7 L533.3,477.0 L530.9,478.4 L527.9,478.8 L524.7,479.0 L521.9,479.8 L519.9,481.7 L518.3,484.5 L516.3,487.4 L513.7,488.5 L511.0,488.3 L508.1,487.4 L505.2,486.5 L502.5,486.5 L500.0,487.8 L497.7,489.7 L495.1,491.6 L492.6,492.2 L490.0,491.7 L487.3,490.5 L484.6,489.4 L482.0,489.1 L479.5,490.0 L477.1,491.6 L474.7,493.2 L472.2,494.0 L469.5,493.7 L466.7,492.5 L463.9,491.3 L461.1,491.0 L458.5,491.9 L456.0,493.6 L453.5,495.3 L450.9,496.0 L448.1,495.5 L445.3,494.2 L442.5,493.2 L438.2,494.2 L437.9,496.9 L438.2,499.8 L438.3,502.8 L437.2,505.4 L434.0,507.7 L431.3,506.2 L428.7,504.9 L426.0,504.5 L423.3,505.4 L420.7,506.9 L418.0,508.2 L415.3,508.5 L412.7,507.6 L410.0,506.0 L407.3,504.8 L404.7,504.6 L402.8,505.9 L399.2,504.3 L396.1,501.6 L395.8,498.4 L396.0,494.4 L393.3,493.3 L390.7,493.2 L388.0,494.3 L385.4,495.9 L382.8,497.1 L380.2,497.3 L377.5,496.4 L374.8,494.9 L372.2,493.8 L369.5,493.8 L366.9,494.9 L364.3,496.5 L361.7,497.7 L360.6,496.9 L358.4,498.7 L355.7,500.3 L353.3,502.2 L352.2,504.7 L352.0,507.8 L352.2,511.0 L350.0,513.0 L347.5,513.0 L344.9,513.0 L342.4,513.0 L339.9,513.0 L337.4,513.0 L334.8,513.0 L332.3,513.0 L329.8,513.0 L327.2,513.0 L324.7,513.0 L322.2,513.0 L319.6,513.0 L317.1,513.0 L314.6,513.0 L312.1,513.0 L309.5,513.0 L307.0,513.0 L304.5,513.0 L301.9,513.0 L299.4,513.0 L296.9,513.0 L294.4,513.0 L291.8,513.0 L289.3,513.0 L286.8,513.0 L284.2,513.0 L281.7,513.0 L279.2,513.0 L276.6,513.0 L274.1,513.0 L271.6,513.0 L269.1,513.0 L266.5,513.0 L265.8,513.3 L263.9,516.1 L261.8,518.8 L260.5,521.7 L262.0,523.8 L259.4,525.4 L256.9,526.7 L254.3,527.2 L251.7,526.6 L249.1,525.2 L246.5,524.0 L243.9,523.6 L241.3,524.3 L238.8,525.8 L236.2,527.3 L233.6,527.9 L231.0,527.4 L228.4,526.1 L225.8,524.8 L223.2,524.3 L220.6,524.9 L218.1,526.3 L215.5,527.8 L213.0,528.6 L210.4,528.2 L207.8,527.0 L205.1,525.6 L202.5,524.9 L199.9,525.4 L197.5,526.7 L195.0,528.2 L192.6,529.2 L190.1,529.1 L187.5,528.1 L185.0,526.7 L182.4,525.7 L179.9,525.8 L177.5,526.8 L175.0,528.4 L172.6,529.6 L170.1,530.0 L167.5,529.3 L165.0,527.9 L162.4,526.7 L159.9,526.3 L157.5,527.0 L155.0,528.5 L152.5,529.9 L150.1,530.7 L147.6,530.3 L145.0,529.2 L142.5,527.8 L139.7,527.1 L137.1,527.7 L134.8,529.4 L132.5,531.3 L130.0,532.6 L127.4,532.9 L124.7,532.1 L122.8,531.5 L122.3,528.7 L120.8,526.5 L118.2,524.6 L115.0,525.1 L112.1,524.9 L109.7,523.4 L107.6,521.1 L106.3,519.3 L105.4,516.6 L103.4,514.4 L100.6,512.7 L98.1,510.8 L96.7,508.4Z" fill="#fff" stroke="#fff" stroke-width="1" filter="url(#b2)"/></mask>
<clipPath id="cblockA"><path d="M291.0,252.0 L347.0,252.0 L355.0,259.0 L386.0,233.0 L426.0,233.0 L490.0,300.0 L497.0,330.0 L499.0,395.0 L452.0,441.0 L412.0,441.0 L401.0,433.0 L390.0,441.0 L356.5,441.0 L356.5,485.0 L320.0,519.0 L280.0,519.0 L248.6,490.0 L248.6,452.0 L282.0,421.0 L324.0,420.0 L310.0,406.0 L275.0,406.0 L216.0,362.0 L216.0,322.0Z"/></clipPath>
<clipPath id="cblockB"><path clip-rule="evenodd" d="M195.0,290.0 L259.0,230.5 L335.0,230.5 L351.0,212.0 L459.0,212.0 L511.0,265.0 L518.0,303.0 L518.5,428.0 L485.0,464.0 L378.5,465.0 L378.5,518.0 L351.0,543.0 L249.0,543.0 L226.0,523.0 L226.0,418.0 L224.0,407.0 L206.0,403.0 L195.0,393.0ZM239.0,340.0 L301.0,273.0 L339.0,273.0 L359.0,293.0 L401.0,255.0 L424.0,258.0 L471.0,318.0 L478.0,353.0 L475.0,385.0 L444.0,417.0 L426.0,417.0 L399.0,403.0 L381.0,419.0 L359.0,419.0 L319.0,383.5 L284.0,383.0 L264.0,365.0 L251.0,365.0 L239.0,353.0ZM289.0,443.0 L324.0,443.0 L336.5,460.5 L336.5,475.5 L314.0,498.0 L291.5,499.0 L269.0,475.5 L269.0,463.0Z"/></clipPath>
</defs>
<rect width="1493" height="886" fill="#fff"/>
<g transform="translate(0,0)">
<path d="M291.0,252.0 L347.0,252.0 L355.0,259.0 L386.0,233.0 L426.0,233.0 L490.0,300.0 L497.0,330.0 L499.0,395.0 L452.0,441.0 L412.0,441.0 L401.0,433.0 L390.0,441.0 L356.5,441.0 L356.5,485.0 L320.0,519.0 L280.0,519.0 L248.6,490.0 L248.6,452.0 L282.0,421.0 L324.0,420.0 L310.0,406.0 L275.0,406.0 L216.0,362.0 L216.0,322.0Z" fill="#c6c6c6"/>
<g mask="url(#mblob)"><rect x="90" y="230" width="520" height="310" fill="#fff"/><use href="#heat" opacity="0.50"/>
<g clip-path="url(#cblockA)"><use href="#heat"/></g>
</g>
<g fill="none" stroke-linejoin="round" filter="url(#b05)">
<path d="M270.0,255.0 L263.3,260.0 L258.3,268.3 L248.3,278.3 L246.7,288.3 L247.5,316.7 L243.3,325.0 L233.3,331.7 L228.0,340.0 L227.5,350.0 L231.0,363.0 L243.3,373.3 L247.5,380.0 L247.0,430.0 L258.6,442.4 L271.0,454.8 L288.4,469.8 L293.4,479.0 L354.2,479.7 L359.2,472.2 L366.6,464.8 L407.0,460.0 L420.0,445.0 L463.0,439.0 L465.0,437.5 L490.0,412.5 L500.0,405.0 L520.0,402.5 L525.0,392.5 L540.0,380.0 L547.5,370.0 L546.0,332.5 L532.5,325.0 L525.0,312.5 L512.5,309.0 L492.5,302.5 L475.0,291.0 L461.7,289.2 L453.3,278.3 L443.3,268.3 L435.0,260.0 L426.7,253.3 L406.7,253.3 L398.3,258.3 L393.3,266.7 L380.0,281.7 L373.3,290.0 L363.3,289.2 L360.0,283.3 L343.3,266.7 L336.7,255.8Z" stroke="#2626cc" stroke-opacity="0.9" stroke-width="3.6"/>
<path d="M336.7,257.5 L447.0,258.5 L475.0,285.0 L492.5,302.5" stroke="#2626cc" stroke-opacity="0.9" stroke-width="3.6"/>
<path d="M284.7,512.6 L319.4,512.6" stroke="#2626cc" stroke-opacity="0.9" stroke-width="3.6"/>
<path d="M291.0,252.0 L347.0,252.0 L355.0,259.0 L386.0,233.0 L426.0,233.0 L490.0,300.0 L497.0,330.0 L499.0,395.0 L452.0,441.0 L412.0,441.0 L401.0,433.0 L390.0,441.0 L356.5,441.0 L356.5,485.0 L320.0,519.0 L280.0,519.0 L248.6,490.0 L248.6,452.0 L282.0,421.0 L324.0,420.0 L310.0,406.0 L275.0,406.0 L216.0,362.0 L216.0,322.0Z" stroke="#222822" stroke-width="3.1"/>
</g>
</g>
<g fill="none" stroke-linejoin="round" filter="url(#b05)"><path d="M259.0,342.0 L270.0,336.7 L280.0,323.3 L296.7,306.7 L310.0,294.2 L316.7,292.5 L330.0,294.2 L340.0,305.0 L350.0,314.2 L358.3,320.8 L363.3,316.7 L375.0,308.3 L380.0,300.0 L390.0,290.0 L400.0,278.3 L405.0,275.8 L410.0,279.2 L418.3,288.3 L430.0,298.3 L435.0,306.7 L445.0,315.0 L448.3,321.7 L445.0,327.5 L450.0,335.0 L453.3,346.7 L458.3,358.3 L456.7,373.3 L448.3,381.7 L441.7,390.0 L432.5,401.5 L426.7,396.7 L418.3,388.3 L408.3,381.7 L396.7,384.2 L383.3,385.0 L376.7,391.7 L370.0,402.5 L365.0,393.3 L361.7,385.0 L358.3,379.2 L353.3,381.7 L346.7,380.0 L336.7,370.0 L326.7,365.0 L295.0,365.0 L288.3,358.3 L280.0,350.0 L270.0,343.3Z" stroke="#dc1a24" stroke-width="4.2"/>
<ellipse cx="304.5" cy="469.8" rx="13" ry="6.5" transform="rotate(-28 304.5 469.8)" stroke="#ff1a10" stroke-width="3.2"/></g>
<g transform="translate(741,-3)">
<path d="M195.0,290.0 L259.0,230.5 L335.0,230.5 L351.0,212.0 L459.0,212.0 L511.0,265.0 L518.0,303.0 L518.5,428.0 L485.0,464.0 L378.5,465.0 L378.5,518.0 L351.0,543.0 L249.0,543.0 L226.0,523.0 L226.0,418.0 L224.0,407.0 L206.0,403.0 L195.0,393.0Z" fill="#c6c6c6"/>
<g mask="url(#mblob)"><rect x="90" y="230" width="520" height="310" fill="#fff"/><use href="#heat" opacity="0.33"/>
<g clip-path="url(#cblockB)"><use href="#heat"/></g>
</g>
<g fill="none" stroke-linejoin="round" filter="url(#b05)">
<path d="M270.0,255.0 L263.3,260.0 L258.3,268.3 L248.3,278.3 L246.7,288.3 L247.5,316.7 L243.3,325.0 L233.3,331.7 L228.0,340.0 L227.5,350.0 L231.0,363.0 L243.3,373.3 L247.5,380.0 L247.0,430.0 L258.6,442.4 L271.0,454.8 L288.4,469.8 L293.4,479.0 L354.2,479.7 L359.2,472.2 L366.6,464.8 L407.0,460.0 L420.0,445.0 L463.0,439.0 L465.0,437.5 L490.0,412.5 L500.0,405.0 L520.0,402.5 L525.0,392.5 L540.0,380.0 L547.5,370.0 L546.0,332.5 L532.5,325.0 L525.0,312.5 L512.5,309.0 L492.5,302.5 L475.0,291.0 L461.7,289.2 L453.3,278.3 L443.3,268.3 L435.0,260.0 L426.7,253.3 L406.7,253.3 L398.3,258.3 L393.3,266.7 L380.0,281.7 L373.3,290.0 L363.3,289.2 L360.0,283.3 L343.3,266.7 L336.7,255.8Z" stroke="#2626cc" stroke-opacity="0.9" stroke-width="3.6"/>
<path d="M336.7,257.5 L447.0,258.5 L475.0,285.0 L492.5,302.5" stroke="#2626cc" stroke-opacity="0.9" stroke-width="3.6"/>
<path d="M284.7,512.6 L319.4,512.6" stroke="#2626cc" stroke-opacity="0.9" stroke-width="3.6"/>
<path d="M342.0,512.0 L350.0,510.0 L352.0,497.0 L359.0,494.0" stroke="#2626cc" stroke-opacity="0.9" stroke-width="3.6"/>
<path d="M280.0,256.0 L278.0,250.0 L275.0,242.0 L264.0,239.0 L251.5,243.0 L249.0,255.0 L247.0,264.0" stroke="#2626cc" stroke-opacity="0.9" stroke-width="3.6"/>
<path d="M195.0,290.0 L259.0,230.5 L335.0,230.5 L351.0,212.0 L459.0,212.0 L511.0,265.0 L518.0,303.0 L518.5,428.0 L485.0,464.0 L378.5,465.0 L378.5,518.0 L351.0,543.0 L249.0,543.0 L226.0,523.0 L226.0,418.0 L224.0,407.0 L206.0,403.0 L195.0,393.0Z" stroke="#222822" stroke-width="3.1"/>
<path d="M239.0,340.0 L301.0,273.0 L339.0,273.0 L359.0,293.0 L401.0,255.0 L424.0,258.0 L471.0,318.0 L478.0,353.0 L475.0,385.0 L444.0,417.0 L426.0,417.0 L399.0,403.0 L381.0,419.0 L359.0,419.0 L319.0,383.5 L284.0,383.0 L264.0,365.0 L251.0,365.0 L239.0,353.0Z" stroke="#2a3a30" stroke-width="3.1"/>
<path d="M289.0,443.0 L324.0,443.0 L336.5,460.5 L336.5,475.5 L314.0,498.0 L291.5,499.0 L269.0,475.5 L269.0,463.0Z" stroke="#2a3a30" stroke-width="3.1"/>
</g>
</g>
<g fill="none" stroke-linejoin="round" filter="url(#b05)" transform="translate(741,-3)"><path d="M259.0,342.0 L270.0,336.7 L280.0,323.3 L296.7,306.7 L310.0,294.2 L316.7,292.5 L330.0,294.2 L340.0,305.0 L350.0,314.2 L358.3,320.8 L363.3,316.7 L375.0,308.3 L380.0,300.0 L390.0,290.0 L400.0,278.3 L405.0,275.8 L410.0,279.2 L418.3,288.3 L430.0,298.3 L435.0,306.7 L445.0,315.0 L448.3,321.7 L445.0,327.5 L450.0,335.0 L453.3,346.7 L458.3,358.3 L456.7,373.3 L448.3,381.7 L441.7,390.0 L432.5,401.5 L426.7,396.7 L418.3,388.3 L408.3,381.7 L396.7,384.2 L383.3,385.0 L376.7,391.7 L370.0,402.5 L365.0,393.3 L361.7,385.0 L358.3,379.2 L353.3,381.7 L346.7,380.0 L336.7,370.0 L326.7,365.0 L295.0,365.0 L288.3,358.3 L280.0,350.0 L270.0,343.3Z" stroke="#f22a34" stroke-width="4.1"/>
<ellipse cx="304.5" cy="468.8" rx="13" ry="6.5" transform="rotate(-28 304.5 468.8)" stroke="#ff1a20" stroke-width="3.2"/></g>
<g stroke="#0a0505" stroke-width="3" stroke-dasharray="8 3.8" fill="none">
<path d="M531.0,285.0 L472.0,337.0"/>
<path d="M520.0,368.0 L491.5,522.0"/>
<path d="M289.0,499.0 L261.0,559.0"/>
<path d="M1274.0,230.0 L1249.0,341.0"/>
<path d="M1171.0,374.0 L1257.5,512.5"/>
<path d="M1029.0,477.5 L972.5,551.0"/>
</g>
<path d="M75.0,96.0 L96.0,96.0 L100.0,97.5 L106.0,89.0 L117.5,89.0 L125.0,91.0 L144.0,110.0 L146.0,147.5 L130.0,161.0 L116.0,162.5 L112.5,159.0 L99.0,161.0 L97.5,177.5 L82.5,189.0 L70.0,190.0 L60.0,179.0 L60.0,165.0 L69.0,156.0 L84.0,155.0 L84.0,150.0 L70.0,150.0 L60.0,144.0 L51.0,139.0 L49.0,124.0 L60.0,111.0Z" fill="#808080" stroke="#000" stroke-width="2" stroke-linejoin="round"/>
<path fill-rule="evenodd" d="M808.8,98.8 L817.5,96.2 L822.5,85.0 L830.0,79.5 L856.2,80.0 L862.5,73.8 L905.0,72.5 L922.5,88.8 L925.0,100.0 L928.0,150.0 L915.0,165.0 L873.8,163.8 L873.8,185.0 L865.0,191.2 L855.0,193.8 L826.2,195.0 L819.5,187.5 L818.8,147.5 L808.0,143.8 L807.0,105.0ZM825.0,116.2 L833.8,110.0 L842.5,97.5 L852.5,95.0 L860.0,96.2 L865.0,102.5 L877.5,91.2 L885.0,88.8 L893.8,93.8 L900.0,102.5 L906.2,110.0 L908.8,122.5 L906.2,136.2 L895.0,148.8 L887.5,143.8 L883.8,142.5 L878.8,147.5 L871.2,150.0 L862.5,143.8 L855.0,136.2 L837.5,133.8 L832.5,127.5 L825.0,127.5ZM835.0,166.2 L842.5,158.8 L852.5,158.8 L858.8,162.5 L857.5,171.2 L850.0,177.5 L843.8,179.5 L837.5,173.8Z" fill="#808080" stroke="#000" stroke-width="2.2" stroke-linejoin="round"/>
<path d="M756.2,52 L757.1,738.7" stroke="#000" stroke-width="1.9"/>
<path d="M23,745.9 L1487,745.9" stroke="#000" stroke-width="1.9"/>
<rect x="667" y="190.4" width="57.6" height="349.2" fill="url(#jet)"/>
<rect x="1408.5" y="202" width="57.8" height="349" fill="url(#jet)"/>
<path d="M667.0,481.2 h3.5 M724.6,481.2 h-3.5" stroke="#000" stroke-opacity="0.22" stroke-width="1"/>
<path d="M667.0,423.0 h3.5 M724.6,423.0 h-3.5" stroke="#000" stroke-opacity="0.22" stroke-width="1"/>
<path d="M667.0,364.8 h3.5 M724.6,364.8 h-3.5" stroke="#000" stroke-opacity="0.22" stroke-width="1"/>
<path d="M667.0,306.6 h3.5 M724.6,306.6 h-3.5" stroke="#000" stroke-opacity="0.22" stroke-width="1"/>
<path d="M667.0,248.4 h3.5 M724.6,248.4 h-3.5" stroke="#000" stroke-opacity="0.22" stroke-width="1"/>
<path d="M1408.5,492.8 h3.5 M1466.3,492.8 h-3.5" stroke="#000" stroke-opacity="0.22" stroke-width="1"/>
<path d="M1408.5,434.6 h3.5 M1466.3,434.6 h-3.5" stroke="#000" stroke-opacity="0.22" stroke-width="1"/>
<path d="M1408.5,376.4 h3.5 M1466.3,376.4 h-3.5" stroke="#000" stroke-opacity="0.22" stroke-width="1"/>
<path d="M1408.5,318.2 h3.5 M1466.3,318.2 h-3.5" stroke="#000" stroke-opacity="0.22" stroke-width="1"/>
<path d="M1408.5,260.0 h3.5 M1466.3,260.0 h-3.5" stroke="#000" stroke-opacity="0.22" stroke-width="1"/>
<g fill="#000"><rect x="434" y="692" width="290" height="6.2"/><rect x="434" y="674" width="5.8" height="34.2"/><rect x="718.5" y="677.5" width="5.8" height="34"/>
<rect x="1182" y="699.6" width="290.3" height="6.2"/><rect x="1182" y="681.3" width="5.8" height="34.2"/><rect x="1466.6" y="684.6" width="5.8" height="34"/></g>
<rect x="28" y="816" width="119.5" height="32" rx="6" fill="url(#leg)"/><rect x="28" y="816" width="80" height="32" rx="6" fill="url(#legr)"/>
<rect x="382" y="819.3" width="119.5" height="27.3" rx="11" fill="#bfbfbf" stroke="#000" stroke-width="8.4"/>
<rect x="718.2" y="816.7" width="119.1" height="26.2" fill="#3333ff"/>
<rect x="1064.3" y="811.9" width="119.8" height="26.7" fill="#ff0000"/>
<text x="10.6" y="32.7" font-size="33.5" text-anchor="start" font-weight="bold" fill="#000">A</text>
<text x="771.3" y="32.7" font-size="33.5" text-anchor="start" font-weight="bold" fill="#000">B</text>
<text x="365.5" y="72.0" font-size="41.7" text-anchor="middle" font-weight="bold" fill="#000">Hypoxic Boost</text>
<text x="371.5" y="120.0" font-size="41.7" text-anchor="middle" font-weight="bold" fill="#000">dose plan</text>
<text x="1138.6" y="70.7" font-size="41.7" text-anchor="middle" font-weight="bold" fill="#000">Oxygenated Boost</text>
<text x="1139.0" y="120.5" font-size="41.7" text-anchor="middle" font-weight="bold" fill="#000">dose plan</text>
<text x="524.2" y="212.6" font-size="36.0" text-anchor="middle" font-weight="normal" fill="#000">Area with</text>
<text x="530.2" y="254.1" font-size="36.0" text-anchor="middle" font-weight="normal" fill="#000">boost</text>
<text x="260.7" y="616.4" font-size="36.0" text-anchor="middle" font-weight="normal" fill="#000">Hypoxia out</text>
<text x="261.0" y="658.6" font-size="36.0" text-anchor="middle" font-weight="normal" fill="#000">of this slice</text>
<text x="485.5" y="580.0" font-size="36.0" text-anchor="middle" font-weight="normal" fill="#000">Area without</text>
<text x="489.5" y="620.7" font-size="36.0" text-anchor="middle" font-weight="normal" fill="#000">boost</text>
<text x="1268.0" y="188.4" font-size="36.0" text-anchor="middle" font-weight="normal" fill="#000">Area with</text>
<text x="1274.0" y="229.1" font-size="36.0" text-anchor="middle" font-weight="normal" fill="#000">boost</text>
<text x="972.0" y="607.3" font-size="36.0" text-anchor="middle" font-weight="normal" fill="#000">Hypoxia out</text>
<text x="972.0" y="649.1" font-size="36.0" text-anchor="middle" font-weight="normal" fill="#000">of this slice</text>
<text x="1252.2" y="569.4" font-size="36.0" text-anchor="middle" font-weight="normal" fill="#000">Area without</text>
<text x="1256.4" y="611.2" font-size="36.0" text-anchor="middle" font-weight="normal" fill="#000">boost</text>
<text x="661.5" y="178.6" font-size="36.0" text-anchor="start" font-weight="bold" fill="#000">pO<tspan font-size="21">2</tspan></text>
<text x="1405.0" y="187.0" font-size="36.0" text-anchor="start" font-weight="bold" fill="#000">pO<tspan font-size="21">2</tspan></text>
<text x="695.7" y="234.2" font-size="30.0" text-anchor="middle" font-weight="bold" fill="#fff">45</text>
<text x="695.6" y="532.7" font-size="30.0" text-anchor="middle" font-weight="bold" fill="#fff">0</text>
<text x="1436.7" y="244.4" font-size="30.0" text-anchor="middle" font-weight="bold" fill="#fff">45</text>
<text x="1437.4" y="534.7" font-size="30.0" text-anchor="middle" font-weight="bold" fill="#fff">0</text>
<text x="693.5" y="582.8" font-size="36.0" text-anchor="middle" font-weight="bold" fill="#000">torr</text>
<text x="1435.2" y="594.3" font-size="36.0" text-anchor="middle" font-weight="bold" fill="#000">torr</text>
<text x="589.8" y="679.0" font-size="29.6" text-anchor="middle" font-weight="normal" fill="#000">1 cm</text>
<text x="1337.5" y="686.0" font-size="29.6" text-anchor="middle" font-weight="normal" fill="#000">1 cm</text>
<text x="158.2" y="823.1" font-size="41.6" text-anchor="start" font-weight="normal" fill="#000">EPR pO<tspan font-size="29.6" dy="6.2">2</tspan></text>
<text x="158.0" y="870.4" font-size="41.6" text-anchor="start" font-weight="normal" fill="#000">image</text>
<text x="520.8" y="818.5" font-size="41.6" text-anchor="start" font-weight="normal" fill="#000">Block</text>
<text x="521.5" y="866.8" font-size="41.6" text-anchor="start" font-weight="normal" fill="#000">outline</text>
<text x="857.3" y="822.8" font-size="41.6" text-anchor="start" font-weight="normal" fill="#000">Tumor</text>
<text x="856.7" y="870.2" font-size="41.6" text-anchor="start" font-weight="normal" fill="#000">contour</text>
<text x="1191.5" y="816.1" font-size="41.6" text-anchor="start" font-weight="normal" fill="#000">Projected</text>
<text x="1192.0" y="862.5" font-size="41.6" text-anchor="start" font-weight="normal" fill="#000">hypoxia outline</text>
</svg></body></html>
